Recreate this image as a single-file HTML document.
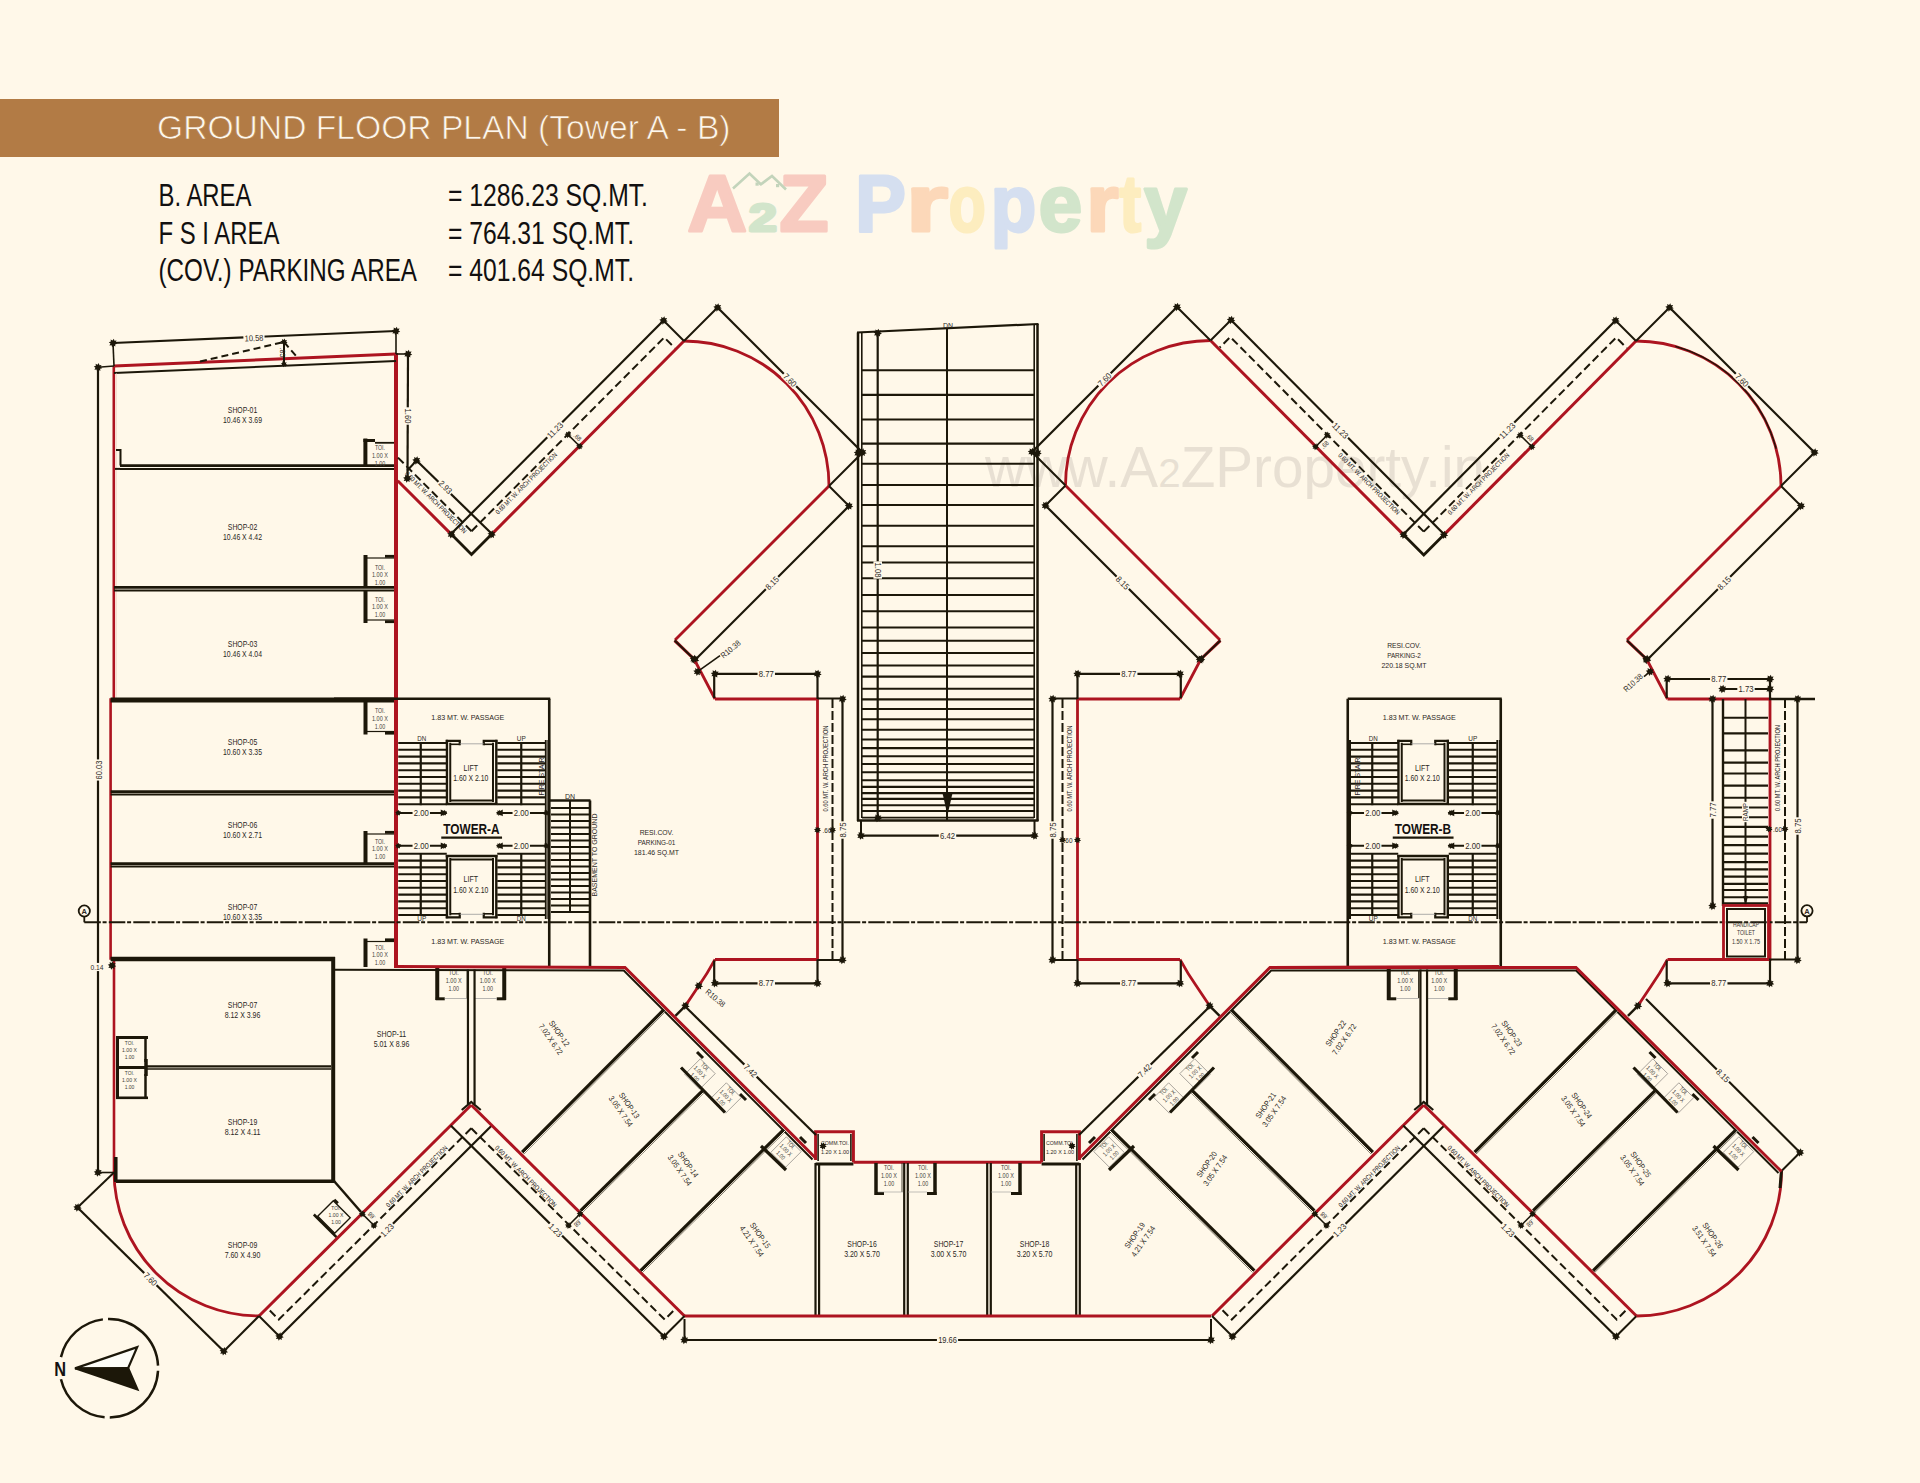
<!DOCTYPE html><html><head><meta charset="utf-8"><style>html,body{margin:0;padding:0;background:#fff8e9;}body{width:1920px;height:1483px;overflow:hidden;font-family:"Liberation Sans",sans-serif;}svg{display:block;}</style></head><body><svg width="1920" height="1483" viewBox="0 0 1920 1483" font-family="Liberation Sans, sans-serif"><rect x="0" y="99" width="779" height="58" fill="#b27b45" stroke="none" stroke-width="0"/><text x="157" y="139" font-size="32.8" text-anchor="start" fill="#fdf7ec" font-weight="normal" textLength="573.5" lengthAdjust="spacingAndGlyphs" stroke="#b27b45" stroke-width="0.7">GROUND FLOOR PLAN (Tower A - B)</text><text x="158.5" y="205.5" font-size="30.5" text-anchor="start" fill="#121010" font-weight="normal" textLength="93" lengthAdjust="spacingAndGlyphs">B. AREA</text><text x="448" y="205.5" font-size="30.5" text-anchor="start" fill="#121010" font-weight="normal" textLength="200" lengthAdjust="spacingAndGlyphs">= 1286.23 SQ.MT.</text><text x="158.5" y="243.75" font-size="30.5" text-anchor="start" fill="#121010" font-weight="normal" textLength="121" lengthAdjust="spacingAndGlyphs">F S I AREA</text><text x="448" y="243.75" font-size="30.5" text-anchor="start" fill="#121010" font-weight="normal" textLength="186" lengthAdjust="spacingAndGlyphs">= 764.31 SQ.MT.</text><text x="158.5" y="281.25" font-size="30.5" text-anchor="start" fill="#121010" font-weight="normal" textLength="258.5" lengthAdjust="spacingAndGlyphs">(COV.) PARKING AREA</text><text x="448" y="281.25" font-size="30.5" text-anchor="start" fill="#121010" font-weight="normal" textLength="186" lengthAdjust="spacingAndGlyphs">= 401.64 SQ.MT.</text><g font-weight="bold" stroke-width="3" stroke-linejoin="round"><text x="687.62" y="231.1" font-size="79.4" fill="#f8cbc0" stroke="#f8cbc0" textLength="59.43" lengthAdjust="spacingAndGlyphs">A</text><text x="748.9" y="231.1" font-size="38" fill="#d2e5cb" stroke="#d2e5cb" textLength="27.75" lengthAdjust="spacingAndGlyphs">2</text><text x="779.38" y="231.1" font-size="79.4" fill="#f8cbc0" stroke="#f8cbc0" textLength="48.96" lengthAdjust="spacingAndGlyphs">Z</text><text x="855.29" y="231.1" font-size="79.4" fill="#d5dff0" stroke="#d5dff0" textLength="50.58" lengthAdjust="spacingAndGlyphs">P</text><text x="906.08" y="231.1" font-size="79.4" fill="#fcd8b9" stroke="#fcd8b9" textLength="42.05" lengthAdjust="spacingAndGlyphs">r</text><text x="948.64" y="231.1" font-size="79.4" fill="#fdedbf" stroke="#fdedbf" textLength="36.9" lengthAdjust="spacingAndGlyphs">o</text><text x="990.86" y="231.1" font-size="79.4" fill="#d5dff0" stroke="#d5dff0" textLength="45.48" lengthAdjust="spacingAndGlyphs">p</text><text x="1038.66" y="231.1" font-size="79.4" fill="#d2e5cb" stroke="#d2e5cb" textLength="43.41" lengthAdjust="spacingAndGlyphs">e</text><text x="1086.45" y="231.1" font-size="79.4" fill="#fcd8b9" stroke="#fcd8b9" textLength="32.01" lengthAdjust="spacingAndGlyphs">r</text><text x="1119.52" y="231.1" font-size="79.4" fill="#fdedbf" stroke="#fdedbf" textLength="21.55" lengthAdjust="spacingAndGlyphs">t</text><text x="1144.16" y="231.1" font-size="79.4" fill="#d2e5cb" stroke="#d2e5cb" textLength="42.63" lengthAdjust="spacingAndGlyphs">y</text></g><polyline points="733,188.5 749.5,173.5 761,184.5" fill="none" stroke="#c3d4bb" stroke-width="2.6" stroke-linejoin="miter"/><polyline points="760,185 772,176 786,189.5" fill="none" stroke="#c3d4bb" stroke-width="2.6" stroke-linejoin="miter"/><rect x="755.5" y="182.5" width="3.2" height="3.2" fill="#c3d4bb" stroke="none" stroke-width="0"/><rect x="776" y="184" width="3.2" height="3.2" fill="#c3d4bb" stroke="none" stroke-width="0"/><text x="985" y="487" font-size="57.5" fill="#e2dacd" fill-opacity="0.8" textLength="500" lengthAdjust="spacingAndGlyphs">www.A<tspan font-size="41">2</tspan>ZProperty.in</text><polyline points="114,366 396,354" fill="none" stroke="#ad1420" stroke-width="3" stroke-linejoin="miter"/><line x1="396" y1="353" x2="396" y2="968" stroke="#ad1420" stroke-width="4" stroke-linecap="butt"/><polyline points="113.8,366 113.8,699.5 110.6,699.5 110.6,958.5 114,958.5 114,1171" fill="none" stroke="#ad1420" stroke-width="2.6" stroke-linejoin="miter"/><path d="M114,1171 A145,145 0 0 0 259,1316" fill="none" stroke="#ad1420" stroke-width="2.8"/><line x1="114" y1="373" x2="396" y2="361" stroke="#1c1709" stroke-width="2" stroke-linecap="butt"/><line x1="116.3" y1="373" x2="116.3" y2="699" stroke="#e8c8b8" stroke-width="0.6" stroke-linecap="butt"/><line x1="113" y1="343" x2="396" y2="331" stroke="#1c1709" stroke-width="2.2" stroke-linecap="butt"/><line x1="113" y1="343" x2="114" y2="366" stroke="#1c1709" stroke-width="1.6" stroke-linecap="butt"/><line x1="396" y1="331" x2="396" y2="354" stroke="#1c1709" stroke-width="1.6" stroke-linecap="butt"/><polygon points="117.21,343.85 115.14,344.44 115.38,346.58 113.49,345.53 112.15,347.21 111.56,345.14 109.42,345.38 110.47,343.49 108.79,342.15 110.86,341.56 110.62,339.42 112.51,340.47 113.85,338.79 114.44,340.86 116.58,340.62 115.53,342.51" fill="#1c1709"/><polygon points="400.21,331.85 398.14,332.44 398.38,334.58 396.49,333.53 395.15,335.21 394.56,333.14 392.42,333.38 393.47,331.49 391.79,330.15 393.86,329.56 393.62,327.42 395.51,328.47 396.85,326.79 397.44,328.86 399.58,328.62 398.53,330.51" fill="#1c1709"/><g transform="translate(254 338) rotate(-2.4)"><rect x="-10.57" y="-4.3" width="21.15" height="8.59" fill="#fff8e9" stroke="none" stroke-width="0"/><text x="0" y="3.1" font-size="8.6" text-anchor="middle" fill="#2e2a26" font-weight="normal" textLength="18.75" lengthAdjust="spacingAndGlyphs">10.58</text></g><line x1="200" y1="361.5" x2="284" y2="342" stroke="#1c1709" stroke-width="2" stroke-dasharray="7 4" stroke-linecap="butt"/><line x1="284" y1="342" x2="297" y2="357" stroke="#1c1709" stroke-width="2" stroke-dasharray="7 4" stroke-linecap="butt"/><line x1="284" y1="342" x2="284" y2="365" stroke="#1c1709" stroke-width="2" stroke-linecap="butt"/><polygon points="287.53,342.72 285.79,343.21 285.99,345 284.41,344.12 283.28,345.53 282.79,343.79 281,343.99 281.88,342.41 280.47,341.28 282.21,340.79 282.01,339 283.59,339.88 284.72,338.47 285.21,340.21 287,340.01 286.12,341.59" fill="#1c1709"/><polygon points="287.14,364.64 285.59,365.07 285.77,366.67 284.37,365.88 283.36,367.14 282.93,365.59 281.33,365.77 282.12,364.37 280.86,363.36 282.41,362.93 282.23,361.33 283.63,362.12 284.64,360.86 285.07,362.41 286.67,362.23 285.88,363.63" fill="#1c1709"/><g transform="translate(283 352.5) rotate(90)"><text x="0" y="2.52" font-size="7" text-anchor="middle" fill="#2e2a26" font-weight="normal" textLength="9.87" lengthAdjust="spacingAndGlyphs">.85</text></g><line x1="98" y1="367" x2="98" y2="1172.5" stroke="#1c1709" stroke-width="2.2" stroke-linecap="butt"/><line x1="98" y1="367.3" x2="114" y2="366" stroke="#1c1709" stroke-width="1.6" stroke-linecap="butt"/><line x1="98" y1="1172.5" x2="114" y2="1172.5" stroke="#1c1709" stroke-width="1.6" stroke-linecap="butt"/><polygon points="102.21,368.15 100.14,368.74 100.38,370.88 98.49,369.83 97.15,371.51 96.56,369.44 94.42,369.68 95.47,367.79 93.79,366.45 95.86,365.86 95.62,363.72 97.51,364.77 98.85,363.09 99.44,365.16 101.58,364.92 100.53,366.81" fill="#1c1709"/><polygon points="102.21,1173.35 100.14,1173.94 100.38,1176.08 98.49,1175.03 97.15,1176.71 96.56,1174.64 94.42,1174.88 95.47,1172.99 93.79,1171.65 95.86,1171.06 95.62,1168.92 97.51,1169.97 98.85,1168.29 99.44,1170.36 101.58,1170.12 100.53,1172.01" fill="#1c1709"/><g transform="translate(98.5 770) rotate(-90)"><rect x="-10.57" y="-4.3" width="21.15" height="8.59" fill="#fff8e9" stroke="none" stroke-width="0"/><text x="0" y="3.1" font-size="8.6" text-anchor="middle" fill="#2e2a26" font-weight="normal" textLength="18.75" lengthAdjust="spacingAndGlyphs">60.03</text></g><line x1="396" y1="354" x2="408" y2="354" stroke="#1c1709" stroke-width="1.6" stroke-linecap="butt"/><line x1="408" y1="354" x2="407.5" y2="479" stroke="#1c1709" stroke-width="2.2" stroke-linecap="butt"/><polygon points="412.21,354.85 410.14,355.44 410.38,357.58 408.49,356.53 407.15,358.21 406.56,356.14 404.42,356.38 405.47,354.49 403.79,353.15 405.86,352.56 405.62,350.42 407.51,351.47 408.85,349.79 409.44,351.86 411.58,351.62 410.53,353.51" fill="#1c1709"/><polygon points="411.51,479.35 409.44,479.94 409.68,482.08 407.79,481.03 406.45,482.71 405.86,480.64 403.72,480.88 404.77,478.99 403.09,477.65 405.16,477.06 404.92,474.92 406.81,475.97 408.15,474.29 408.74,476.36 410.88,476.12 409.83,478.01" fill="#1c1709"/><g transform="translate(408 416) rotate(90)"><rect x="-8.7" y="-4.3" width="17.4" height="8.59" fill="#fff8e9" stroke="none" stroke-width="0"/><text x="0" y="3.1" font-size="8.6" text-anchor="middle" fill="#2e2a26" font-weight="normal" textLength="15" lengthAdjust="spacingAndGlyphs">1.60</text></g><line x1="120" y1="465.6" x2="394" y2="465.6" stroke="#1c1709" stroke-width="2.6" stroke-linecap="butt"/><line x1="120" y1="468.9" x2="394" y2="468.9" stroke="#1c1709" stroke-width="2" stroke-linecap="butt"/><line x1="115" y1="468.9" x2="120" y2="468.9" stroke="#1c1709" stroke-width="2" stroke-linecap="butt"/><polyline points="116,450 120.5,450 120.5,465.6" fill="none" stroke="#1c1709" stroke-width="2" stroke-linejoin="miter"/><line x1="114" y1="587.4" x2="394" y2="587.4" stroke="#1c1709" stroke-width="2.6" stroke-linecap="butt"/><line x1="114" y1="590.6" x2="394" y2="590.6" stroke="#1c1709" stroke-width="2" stroke-linecap="butt"/><line x1="110.6" y1="700" x2="394" y2="700" stroke="#1c1709" stroke-width="5" stroke-linecap="butt"/><line x1="110.6" y1="791.6" x2="394" y2="791.6" stroke="#1c1709" stroke-width="2.6" stroke-linecap="butt"/><line x1="110.6" y1="794.4" x2="394" y2="794.4" stroke="#1c1709" stroke-width="2" stroke-linecap="butt"/><line x1="110.6" y1="863.6" x2="394" y2="863.6" stroke="#1c1709" stroke-width="2.6" stroke-linecap="butt"/><line x1="110.6" y1="866.6" x2="394" y2="866.6" stroke="#1c1709" stroke-width="2" stroke-linecap="butt"/><line x1="110.6" y1="959" x2="335" y2="959" stroke="#1c1709" stroke-width="4.5" stroke-linecap="butt"/><line x1="365.4" y1="438.5" x2="365.4" y2="466.5" stroke="#1c1709" stroke-width="4" stroke-linecap="butt"/><line x1="363.4" y1="440.5" x2="375" y2="440.5" stroke="#1c1709" stroke-width="3" stroke-linecap="butt"/><line x1="375" y1="442.8" x2="394" y2="442.8" stroke="#1c1709" stroke-width="1.8" stroke-linecap="butt"/><line x1="365.5" y1="555" x2="365.5" y2="588" stroke="#1c1709" stroke-width="4" stroke-linecap="butt"/><line x1="385" y1="556.3" x2="394" y2="556.3" stroke="#1c1709" stroke-width="2.8" stroke-linecap="butt"/><line x1="367" y1="558" x2="394" y2="558" stroke="#1c1709" stroke-width="1.2" stroke-linecap="butt"/><line x1="365.5" y1="590" x2="365.5" y2="623" stroke="#1c1709" stroke-width="4" stroke-linecap="butt"/><line x1="385" y1="621.7" x2="394" y2="621.7" stroke="#1c1709" stroke-width="2.8" stroke-linecap="butt"/><line x1="367" y1="620" x2="394" y2="620" stroke="#1c1709" stroke-width="1.2" stroke-linecap="butt"/><line x1="365.5" y1="700" x2="365.5" y2="734.5" stroke="#1c1709" stroke-width="4" stroke-linecap="butt"/><line x1="385" y1="733.2" x2="394" y2="733.2" stroke="#1c1709" stroke-width="2.8" stroke-linecap="butt"/><line x1="367" y1="731.5" x2="394" y2="731.5" stroke="#1c1709" stroke-width="1.2" stroke-linecap="butt"/><line x1="365.5" y1="831" x2="365.5" y2="864" stroke="#1c1709" stroke-width="4" stroke-linecap="butt"/><line x1="385" y1="832.3" x2="394" y2="832.3" stroke="#1c1709" stroke-width="2.8" stroke-linecap="butt"/><line x1="367" y1="834" x2="394" y2="834" stroke="#1c1709" stroke-width="1.2" stroke-linecap="butt"/><line x1="365.5" y1="938.5" x2="365.5" y2="967" stroke="#1c1709" stroke-width="4" stroke-linecap="butt"/><line x1="385" y1="939.8" x2="394" y2="939.8" stroke="#1c1709" stroke-width="2.8" stroke-linecap="butt"/><line x1="367" y1="941.5" x2="394" y2="941.5" stroke="#1c1709" stroke-width="1.2" stroke-linecap="butt"/><g transform="translate(380 455.5) rotate(0)"><text x="0" y="-5.4" font-size="6.6" text-anchor="middle" fill="#433f3a" font-weight="normal" textLength="10" lengthAdjust="spacingAndGlyphs">TOI.</text><text x="0" y="2.4" font-size="6.6" text-anchor="middle" fill="#433f3a" font-weight="normal" textLength="16" lengthAdjust="spacingAndGlyphs">1.00 X</text><text x="0" y="10.2" font-size="6.6" text-anchor="middle" fill="#433f3a" font-weight="normal" textLength="10.5" lengthAdjust="spacingAndGlyphs">1.00</text></g><g transform="translate(380 575) rotate(0)"><text x="0" y="-5.4" font-size="6.6" text-anchor="middle" fill="#433f3a" font-weight="normal" textLength="10" lengthAdjust="spacingAndGlyphs">TOI.</text><text x="0" y="2.4" font-size="6.6" text-anchor="middle" fill="#433f3a" font-weight="normal" textLength="16" lengthAdjust="spacingAndGlyphs">1.00 X</text><text x="0" y="10.2" font-size="6.6" text-anchor="middle" fill="#433f3a" font-weight="normal" textLength="10.5" lengthAdjust="spacingAndGlyphs">1.00</text></g><g transform="translate(380 607) rotate(0)"><text x="0" y="-5.4" font-size="6.6" text-anchor="middle" fill="#433f3a" font-weight="normal" textLength="10" lengthAdjust="spacingAndGlyphs">TOI.</text><text x="0" y="2.4" font-size="6.6" text-anchor="middle" fill="#433f3a" font-weight="normal" textLength="16" lengthAdjust="spacingAndGlyphs">1.00 X</text><text x="0" y="10.2" font-size="6.6" text-anchor="middle" fill="#433f3a" font-weight="normal" textLength="10.5" lengthAdjust="spacingAndGlyphs">1.00</text></g><g transform="translate(380 718.5) rotate(0)"><text x="0" y="-5.4" font-size="6.6" text-anchor="middle" fill="#433f3a" font-weight="normal" textLength="10" lengthAdjust="spacingAndGlyphs">TOI.</text><text x="0" y="2.4" font-size="6.6" text-anchor="middle" fill="#433f3a" font-weight="normal" textLength="16" lengthAdjust="spacingAndGlyphs">1.00 X</text><text x="0" y="10.2" font-size="6.6" text-anchor="middle" fill="#433f3a" font-weight="normal" textLength="10.5" lengthAdjust="spacingAndGlyphs">1.00</text></g><g transform="translate(380 849) rotate(0)"><text x="0" y="-5.4" font-size="6.6" text-anchor="middle" fill="#433f3a" font-weight="normal" textLength="10" lengthAdjust="spacingAndGlyphs">TOI.</text><text x="0" y="2.4" font-size="6.6" text-anchor="middle" fill="#433f3a" font-weight="normal" textLength="16" lengthAdjust="spacingAndGlyphs">1.00 X</text><text x="0" y="10.2" font-size="6.6" text-anchor="middle" fill="#433f3a" font-weight="normal" textLength="10.5" lengthAdjust="spacingAndGlyphs">1.00</text></g><g transform="translate(380 955) rotate(0)"><text x="0" y="-5.4" font-size="6.6" text-anchor="middle" fill="#433f3a" font-weight="normal" textLength="10" lengthAdjust="spacingAndGlyphs">TOI.</text><text x="0" y="2.4" font-size="6.6" text-anchor="middle" fill="#433f3a" font-weight="normal" textLength="16" lengthAdjust="spacingAndGlyphs">1.00 X</text><text x="0" y="10.2" font-size="6.6" text-anchor="middle" fill="#433f3a" font-weight="normal" textLength="10.5" lengthAdjust="spacingAndGlyphs">1.00</text></g><g transform="translate(97 967) rotate(0)"><rect x="-7.7" y="-4.08" width="15.4" height="8.16" fill="#fff8e9" stroke="none" stroke-width="0"/><text x="0" y="2.88" font-size="8" text-anchor="middle" fill="#2e2a26" font-weight="normal" textLength="13" lengthAdjust="spacingAndGlyphs">0.14</text></g><polygon points="116.21,966.35 114.14,966.94 114.38,969.08 112.49,968.03 111.15,969.71 110.56,967.64 108.42,967.88 109.47,965.99 107.79,964.65 109.86,964.06 109.62,961.92 111.51,962.97 112.85,961.29 113.44,963.36 115.58,963.12 114.53,965.01" fill="#1c1709"/><g transform="translate(242.5 413) rotate(0)"><text x="0" y="0" font-size="8.2" text-anchor="middle" fill="#2b2723" font-weight="normal" textLength="29.4" lengthAdjust="spacingAndGlyphs">SHOP-01</text><text x="0" y="10.3" font-size="8.2" text-anchor="middle" fill="#2b2723" font-weight="normal" textLength="39" lengthAdjust="spacingAndGlyphs">10.46 X 3.69</text></g><g transform="translate(242.5 530) rotate(0)"><text x="0" y="0" font-size="8.2" text-anchor="middle" fill="#2b2723" font-weight="normal" textLength="29.4" lengthAdjust="spacingAndGlyphs">SHOP-02</text><text x="0" y="10.3" font-size="8.2" text-anchor="middle" fill="#2b2723" font-weight="normal" textLength="39" lengthAdjust="spacingAndGlyphs">10.46 X 4.42</text></g><g transform="translate(242.5 647) rotate(0)"><text x="0" y="0" font-size="8.2" text-anchor="middle" fill="#2b2723" font-weight="normal" textLength="29.4" lengthAdjust="spacingAndGlyphs">SHOP-03</text><text x="0" y="10.3" font-size="8.2" text-anchor="middle" fill="#2b2723" font-weight="normal" textLength="39" lengthAdjust="spacingAndGlyphs">10.46 X 4.04</text></g><g transform="translate(242.5 745) rotate(0)"><text x="0" y="0" font-size="8.2" text-anchor="middle" fill="#2b2723" font-weight="normal" textLength="29.4" lengthAdjust="spacingAndGlyphs">SHOP-05</text><text x="0" y="10.3" font-size="8.2" text-anchor="middle" fill="#2b2723" font-weight="normal" textLength="39" lengthAdjust="spacingAndGlyphs">10.60 X 3.35</text></g><g transform="translate(242.5 828) rotate(0)"><text x="0" y="0" font-size="8.2" text-anchor="middle" fill="#2b2723" font-weight="normal" textLength="29.4" lengthAdjust="spacingAndGlyphs">SHOP-06</text><text x="0" y="10.3" font-size="8.2" text-anchor="middle" fill="#2b2723" font-weight="normal" textLength="39" lengthAdjust="spacingAndGlyphs">10.60 X 2.71</text></g><g transform="translate(242.5 909.5) rotate(0)"><text x="0" y="0" font-size="8.2" text-anchor="middle" fill="#2b2723" font-weight="normal" textLength="29.4" lengthAdjust="spacingAndGlyphs">SHOP-07</text><text x="0" y="10.3" font-size="8.2" text-anchor="middle" fill="#2b2723" font-weight="normal" textLength="39" lengthAdjust="spacingAndGlyphs">10.60 X 3.35</text></g><line x1="333.2" y1="957" x2="333.2" y2="1183" stroke="#1c1709" stroke-width="4" stroke-linecap="butt"/><line x1="116" y1="1181.3" x2="333" y2="1181.3" stroke="#1c1709" stroke-width="3.5" stroke-linecap="butt"/><line x1="115.8" y1="1157" x2="115.8" y2="1182" stroke="#1c1709" stroke-width="3.5" stroke-linecap="butt"/><line x1="147" y1="1066.3" x2="331" y2="1066.3" stroke="#1c1709" stroke-width="2.2" stroke-linecap="butt"/><line x1="147" y1="1069" x2="331" y2="1069" stroke="#1c1709" stroke-width="1.6" stroke-linecap="butt"/><line x1="116" y1="1037.5" x2="148" y2="1037.5" stroke="#1c1709" stroke-width="3" stroke-linecap="butt"/><line x1="117.5" y1="1036" x2="117.5" y2="1099" stroke="#1c1709" stroke-width="3" stroke-linecap="butt"/><line x1="145.5" y1="1038" x2="145.5" y2="1062" stroke="#1c1709" stroke-width="2.5" stroke-linecap="butt"/><line x1="146" y1="1059" x2="146" y2="1076" stroke="#1c1709" stroke-width="3.5" stroke-linecap="butt"/><line x1="145.5" y1="1074" x2="145.5" y2="1097" stroke="#1c1709" stroke-width="2.5" stroke-linecap="butt"/><line x1="116" y1="1067.5" x2="146" y2="1067.5" stroke="#1c1709" stroke-width="3" stroke-linecap="butt"/><line x1="116" y1="1097.8" x2="148" y2="1097.8" stroke="#1c1709" stroke-width="2.6" stroke-linecap="butt"/><g transform="translate(129.5 1049.5) rotate(0)"><text x="0" y="-5.01" font-size="6.13" text-anchor="middle" fill="#433f3a" font-weight="normal" textLength="9.29" lengthAdjust="spacingAndGlyphs">TOI.</text><text x="0" y="2.23" font-size="6.13" text-anchor="middle" fill="#433f3a" font-weight="normal" textLength="14.86" lengthAdjust="spacingAndGlyphs">1.00 X</text><text x="0" y="9.47" font-size="6.13" text-anchor="middle" fill="#433f3a" font-weight="normal" textLength="9.75" lengthAdjust="spacingAndGlyphs">1.00</text></g><g transform="translate(129.5 1079.5) rotate(0)"><text x="0" y="-5.01" font-size="6.13" text-anchor="middle" fill="#433f3a" font-weight="normal" textLength="9.29" lengthAdjust="spacingAndGlyphs">TOI.</text><text x="0" y="2.23" font-size="6.13" text-anchor="middle" fill="#433f3a" font-weight="normal" textLength="14.86" lengthAdjust="spacingAndGlyphs">1.00 X</text><text x="0" y="9.47" font-size="6.13" text-anchor="middle" fill="#433f3a" font-weight="normal" textLength="9.75" lengthAdjust="spacingAndGlyphs">1.00</text></g><g transform="translate(242.5 1008) rotate(0)"><text x="0" y="0" font-size="8.2" text-anchor="middle" fill="#2b2723" font-weight="normal" textLength="29.4" lengthAdjust="spacingAndGlyphs">SHOP-07</text><text x="0" y="10.3" font-size="8.2" text-anchor="middle" fill="#2b2723" font-weight="normal" textLength="35.75" lengthAdjust="spacingAndGlyphs">8.12 X 3.96</text></g><g transform="translate(242.5 1125) rotate(0)"><text x="0" y="0" font-size="8.2" text-anchor="middle" fill="#2b2723" font-weight="normal" textLength="29.4" lengthAdjust="spacingAndGlyphs">SHOP-19</text><text x="0" y="10.3" font-size="8.2" text-anchor="middle" fill="#2b2723" font-weight="normal" textLength="35.75" lengthAdjust="spacingAndGlyphs">8.12 X 4.11</text></g><g transform="translate(242.5 1248) rotate(0)"><text x="0" y="0" font-size="8.2" text-anchor="middle" fill="#2b2723" font-weight="normal" textLength="29.4" lengthAdjust="spacingAndGlyphs">SHOP-09</text><text x="0" y="10.3" font-size="8.2" text-anchor="middle" fill="#2b2723" font-weight="normal" textLength="35.75" lengthAdjust="spacingAndGlyphs">7.60 X 4.90</text></g><line x1="334" y1="1181" x2="361" y2="1212" stroke="#1c1709" stroke-width="2.5" stroke-linecap="butt"/><g transform="translate(391.5 1037) rotate(0)"><text x="0" y="0" font-size="8.2" text-anchor="middle" fill="#2b2723" font-weight="normal" textLength="29.4" lengthAdjust="spacingAndGlyphs">SHOP-11</text><text x="0" y="10.3" font-size="8.2" text-anchor="middle" fill="#2b2723" font-weight="normal" textLength="35.75" lengthAdjust="spacingAndGlyphs">5.01 X 8.96</text></g><g transform="rotate(45 334 1217)"><rect x="322" y="1206" width="24" height="22" fill="none" stroke="#1c1709" stroke-width="1.4"/><line x1="318" y1="1229.5" x2="350" y2="1229.5" stroke="#1c1709" stroke-width="2.6" stroke-linecap="butt"/><line x1="322" y1="1204.5" x2="327" y2="1204.5" stroke="#1c1709" stroke-width="2.6" stroke-linecap="butt"/></g><g transform="translate(336 1215) rotate(0)"><text x="0" y="-5.01" font-size="6.13" text-anchor="middle" fill="#433f3a" font-weight="normal" textLength="9.29" lengthAdjust="spacingAndGlyphs">TOI.</text><text x="0" y="2.23" font-size="6.13" text-anchor="middle" fill="#433f3a" font-weight="normal" textLength="14.86" lengthAdjust="spacingAndGlyphs">1.00 X</text><text x="0" y="9.47" font-size="6.13" text-anchor="middle" fill="#433f3a" font-weight="normal" textLength="9.75" lengthAdjust="spacingAndGlyphs">1.00</text></g><line x1="114" y1="1172.5" x2="77.5" y2="1207.5" stroke="#1c1709" stroke-width="2" stroke-linecap="butt"/><line x1="77.5" y1="1207.5" x2="223.8" y2="1351.3" stroke="#1c1709" stroke-width="2.2" stroke-linecap="butt"/><line x1="223.8" y1="1351.3" x2="259" y2="1316" stroke="#1c1709" stroke-width="2" stroke-linecap="butt"/><polygon points="81.71,1208.35 79.64,1208.94 79.88,1211.08 77.99,1210.03 76.65,1211.71 76.06,1209.64 73.92,1209.88 74.97,1207.99 73.29,1206.65 75.36,1206.06 75.12,1203.92 77.01,1204.97 78.35,1203.29 78.94,1205.36 81.08,1205.12 80.03,1207.01" fill="#1c1709"/><polygon points="228.01,1352.15 225.94,1352.74 226.18,1354.88 224.29,1353.83 222.95,1355.51 222.36,1353.44 220.22,1353.68 221.27,1351.79 219.59,1350.45 221.66,1349.86 221.42,1347.72 223.31,1348.77 224.65,1347.09 225.24,1349.16 227.38,1348.92 226.33,1350.81" fill="#1c1709"/><g transform="translate(150.5 1279) rotate(45)"><rect x="-8.7" y="-4.3" width="17.4" height="8.59" fill="#fff8e9" stroke="none" stroke-width="0"/><text x="0" y="3.1" font-size="8.6" text-anchor="middle" fill="#2e2a26" font-weight="normal" textLength="15" lengthAdjust="spacingAndGlyphs">7.60</text></g><polyline points="451.35,534.35 471.5,554.5 491.65,534.35" fill="none" stroke="#1c1709" stroke-width="2.8" stroke-linejoin="miter"/><line x1="451.35" y1="534.35" x2="397.7" y2="480.7" stroke="#ad1420" stroke-width="3" stroke-linecap="butt"/><polyline points="471.5,531.17 396,455.67" fill="none" stroke="#1c1709" stroke-width="2" stroke-dasharray="8 4" stroke-linejoin="miter"/><line x1="492.01" y1="533.99" x2="416.5" y2="460.5" stroke="#1c1709" stroke-width="2.2" stroke-linecap="butt"/><polygon points="420.71,461.35 418.64,461.94 418.88,464.08 416.99,463.03 415.65,464.71 415.06,462.64 412.92,462.88 413.97,460.99 412.29,459.65 414.36,459.06 414.12,456.92 416.01,457.97 417.35,456.29 417.94,458.36 420.08,458.12 419.03,460.01" fill="#1c1709"/><line x1="416.5" y1="460.5" x2="407.3" y2="470.5" stroke="#1c1709" stroke-width="2" stroke-linecap="butt"/><g transform="translate(445.5 487) rotate(45)"><rect x="-8.7" y="-4.3" width="17.4" height="8.59" fill="#fff8e9" stroke="none" stroke-width="0"/><text x="0" y="3.1" font-size="8.6" text-anchor="middle" fill="#2e2a26" font-weight="normal" textLength="15" lengthAdjust="spacingAndGlyphs">2.93</text></g><g transform="translate(436 502.32) rotate(45)"><text x="0" y="2.45" font-size="6.8" text-anchor="middle" fill="#24201c" font-weight="normal" textLength="84" lengthAdjust="spacingAndGlyphs">0.60 MT. W. ARCH PROJECTION</text></g><line x1="491.65" y1="534.35" x2="684" y2="341" stroke="#ad1420" stroke-width="3" stroke-linecap="butt"/><polyline points="471.5,531.17 664.2,337.46 674.81,348.07" fill="none" stroke="#1c1709" stroke-width="2" stroke-dasharray="8 4" stroke-linejoin="miter"/><line x1="450.99" y1="533.99" x2="663.49" y2="320.49" stroke="#1c1709" stroke-width="2.2" stroke-linecap="butt"/><line x1="663.49" y1="320.49" x2="684" y2="341" stroke="#1c1709" stroke-width="2" stroke-linecap="butt"/><polygon points="667.71,321.35 665.63,321.94 665.87,324.08 663.99,323.03 662.64,324.71 662.05,322.63 659.91,322.87 660.96,320.99 659.28,319.64 661.35,319.05 661.12,316.91 663,317.96 664.35,316.28 664.94,318.35 667.08,318.12 666.03,320" fill="#1c1709"/><g transform="translate(526.09 483.22) rotate(-45)"><text x="0" y="2.45" font-size="6.8" text-anchor="middle" fill="#24201c" font-weight="normal" textLength="84" lengthAdjust="spacingAndGlyphs">0.60 MT. W. ARCH PROJECTION</text></g><line x1="579.69" y1="446.31" x2="568.02" y2="434.65" stroke="#1c1709" stroke-width="1.5" stroke-linecap="butt"/><polygon points="583.22,447.03 581.48,447.52 581.68,449.31 580.1,448.43 578.97,449.84 578.48,448.1 576.69,448.3 577.57,446.73 576.16,445.6 577.9,445.11 577.7,443.31 579.27,444.19 580.4,442.78 580.89,444.52 582.69,444.32 581.81,445.9" fill="#1c1709"/><polygon points="571.55,435.36 569.81,435.85 570.01,437.65 568.43,436.77 567.3,438.17 566.81,436.44 565.02,436.63 565.9,435.06 564.49,433.93 566.23,433.44 566.03,431.64 567.61,432.53 568.74,431.12 569.23,432.85 571.02,432.66 570.14,434.23" fill="#1c1709"/><g transform="translate(577.57 437.12) rotate(45)"><text x="0" y="2.34" font-size="6.5" text-anchor="middle" fill="#2e2a26" font-weight="normal" textLength="8" lengthAdjust="spacingAndGlyphs">.68</text></g><g transform="translate(554.94 430.05) rotate(-45)"><rect x="-10.57" y="-4.3" width="21.15" height="8.59" fill="#fff8e9" stroke="none" stroke-width="0"/><text x="0" y="3.1" font-size="8.6" text-anchor="middle" fill="#2e2a26" font-weight="normal" textLength="18.75" lengthAdjust="spacingAndGlyphs">11.23</text></g><polygon points="455.56,535.2 453.49,535.79 453.72,537.93 451.84,536.88 450.49,538.56 449.91,536.49 447.76,536.72 448.82,534.84 447.13,533.49 449.21,532.91 448.97,530.76 450.85,531.82 452.2,530.13 452.79,532.21 454.93,531.97 453.88,533.85" fill="#1c1709"/><polygon points="495.87,535.2 493.79,535.79 494.03,537.93 492.15,536.88 490.8,538.56 490.21,536.49 488.07,536.72 489.12,534.84 487.44,533.49 489.51,532.91 489.28,530.76 491.16,531.82 492.51,530.13 493.09,532.21 495.24,531.97 494.18,533.85" fill="#1c1709"/><polyline points="1403.6,534.85 1423.75,555 1443.9,534.85" fill="none" stroke="#1c1709" stroke-width="2.8" stroke-linejoin="miter"/><line x1="1403.6" y1="534.85" x2="1210.5" y2="340.5" stroke="#ad1420" stroke-width="3" stroke-linecap="butt"/><polyline points="1423.75,531.67 1230.3,336.96 1219.69,347.57" fill="none" stroke="#1c1709" stroke-width="2" stroke-dasharray="8 4" stroke-linejoin="miter"/><line x1="1444.26" y1="534.49" x2="1231.01" y2="319.99" stroke="#1c1709" stroke-width="2.2" stroke-linecap="butt"/><line x1="1231.01" y1="319.99" x2="1210.5" y2="340.5" stroke="#1c1709" stroke-width="2" stroke-linecap="butt"/><polygon points="1235.22,320.85 1233.15,321.44 1233.38,323.58 1231.5,322.53 1230.15,324.21 1229.56,322.13 1227.42,322.37 1228.47,320.49 1226.79,319.14 1228.87,318.55 1228.63,316.41 1230.51,317.46 1231.86,315.78 1232.45,317.85 1234.59,317.62 1233.54,319.5" fill="#1c1709"/><g transform="translate(1369.16 483.72) rotate(45)"><text x="0" y="2.45" font-size="6.8" text-anchor="middle" fill="#24201c" font-weight="normal" textLength="84" lengthAdjust="spacingAndGlyphs">0.60 MT. W. ARCH PROJECTION</text></g><line x1="1315.56" y1="446.81" x2="1327.23" y2="435.15" stroke="#1c1709" stroke-width="1.5" stroke-linecap="butt"/><polygon points="1319.09,447.53 1317.35,448.02 1317.55,449.81 1315.98,448.93 1314.85,450.34 1314.36,448.6 1312.56,448.8 1313.44,447.23 1312.03,446.1 1313.77,445.61 1313.57,443.81 1315.15,444.69 1316.28,443.28 1316.77,445.02 1318.56,444.82 1317.68,446.4" fill="#1c1709"/><polygon points="1330.76,435.86 1329.02,436.35 1329.22,438.15 1327.64,437.27 1326.51,438.67 1326.02,436.94 1324.23,437.13 1325.11,435.56 1323.7,434.43 1325.44,433.94 1325.24,432.14 1326.82,433.03 1327.95,431.62 1328.44,433.35 1330.23,433.16 1329.35,434.73" fill="#1c1709"/><g transform="translate(1324.76 444.69) rotate(-45)"><text x="0" y="2.34" font-size="6.5" text-anchor="middle" fill="#2e2a26" font-weight="normal" textLength="8" lengthAdjust="spacingAndGlyphs">.68</text></g><g transform="translate(1340.31 430.55) rotate(45)"><rect x="-10.57" y="-4.3" width="21.15" height="8.59" fill="#fff8e9" stroke="none" stroke-width="0"/><text x="0" y="3.1" font-size="8.6" text-anchor="middle" fill="#2e2a26" font-weight="normal" textLength="18.75" lengthAdjust="spacingAndGlyphs">11.23</text></g><line x1="1443.9" y1="534.85" x2="1636" y2="341" stroke="#ad1420" stroke-width="3" stroke-linecap="butt"/><polyline points="1423.75,531.67 1616.2,337.46 1626.81,348.07" fill="none" stroke="#1c1709" stroke-width="2" stroke-dasharray="8 4" stroke-linejoin="miter"/><line x1="1403.24" y1="534.49" x2="1615.49" y2="320.49" stroke="#1c1709" stroke-width="2.2" stroke-linecap="butt"/><line x1="1615.49" y1="320.49" x2="1636" y2="341" stroke="#1c1709" stroke-width="2" stroke-linecap="butt"/><polygon points="1619.71,321.35 1617.63,321.94 1617.87,324.08 1615.99,323.03 1614.64,324.71 1614.05,322.63 1611.91,322.87 1612.96,320.99 1611.28,319.64 1613.35,319.05 1613.12,316.91 1615,317.96 1616.35,316.28 1616.94,318.35 1619.08,318.12 1618.03,320" fill="#1c1709"/><g transform="translate(1478.34 483.72) rotate(-45)"><text x="0" y="2.45" font-size="6.8" text-anchor="middle" fill="#24201c" font-weight="normal" textLength="84" lengthAdjust="spacingAndGlyphs">0.60 MT. W. ARCH PROJECTION</text></g><line x1="1531.94" y1="446.81" x2="1520.27" y2="435.15" stroke="#1c1709" stroke-width="1.5" stroke-linecap="butt"/><polygon points="1535.47,447.53 1533.73,448.02 1533.93,449.81 1532.35,448.93 1531.22,450.34 1530.73,448.6 1528.94,448.8 1529.82,447.23 1528.41,446.1 1530.15,445.61 1529.95,443.81 1531.52,444.69 1532.65,443.28 1533.14,445.02 1534.94,444.82 1534.06,446.4" fill="#1c1709"/><polygon points="1523.8,435.86 1522.06,436.35 1522.26,438.15 1520.68,437.27 1519.55,438.67 1519.06,436.94 1517.27,437.13 1518.15,435.56 1516.74,434.43 1518.48,433.94 1518.28,432.14 1519.86,433.03 1520.99,431.62 1521.48,433.35 1523.27,433.16 1522.39,434.73" fill="#1c1709"/><g transform="translate(1529.82 437.62) rotate(45)"><text x="0" y="2.34" font-size="6.5" text-anchor="middle" fill="#2e2a26" font-weight="normal" textLength="8" lengthAdjust="spacingAndGlyphs">.68</text></g><g transform="translate(1507.19 430.55) rotate(-45)"><rect x="-10.57" y="-4.3" width="21.15" height="8.59" fill="#fff8e9" stroke="none" stroke-width="0"/><text x="0" y="3.1" font-size="8.6" text-anchor="middle" fill="#2e2a26" font-weight="normal" textLength="18.75" lengthAdjust="spacingAndGlyphs">11.23</text></g><polygon points="1407.81,535.7 1405.74,536.29 1405.97,538.43 1404.09,537.38 1402.74,539.06 1402.16,536.99 1400.01,537.22 1401.07,535.34 1399.38,533.99 1401.46,533.41 1401.22,531.26 1403.1,532.32 1404.45,530.63 1405.04,532.71 1407.18,532.47 1406.13,534.35" fill="#1c1709"/><polygon points="1448.12,535.7 1446.04,536.29 1446.28,538.43 1444.4,537.38 1443.05,539.06 1442.46,536.99 1440.32,537.22 1441.37,535.34 1439.69,533.99 1441.76,533.41 1441.53,531.26 1443.41,532.32 1444.76,530.63 1445.34,532.71 1447.49,532.47 1446.43,534.35" fill="#1c1709"/><path d="M684,341 A145,145 0 0 1 829,486" fill="none" stroke="#ad1420" stroke-width="2.8"/><line x1="684" y1="341" x2="717.52" y2="307.48" stroke="#1c1709" stroke-width="2" stroke-linecap="butt"/><line x1="829" y1="486" x2="862.52" y2="452.48" stroke="#1c1709" stroke-width="2" stroke-linecap="butt"/><line x1="717.52" y1="307.48" x2="862.52" y2="452.48" stroke="#1c1709" stroke-width="2.2" stroke-linecap="butt"/><polygon points="721.73,308.34 719.66,308.92 719.89,311.07 718.01,310.02 716.66,311.7 716.08,309.62 713.93,309.86 714.98,307.98 713.3,306.63 715.38,306.04 715.14,303.9 717.02,304.95 718.37,303.27 718.96,305.34 721.1,305.11 720.05,306.99" fill="#1c1709"/><polygon points="866.73,453.34 864.66,453.92 864.89,456.07 863.01,455.02 861.66,456.7 861.08,454.62 858.93,454.86 859.98,452.98 858.3,451.63 860.38,451.04 860.14,448.9 862.02,449.95 863.37,448.27 863.96,450.34 866.1,450.11 865.05,451.99" fill="#1c1709"/><g transform="translate(790.02 379.98) rotate(45)"><rect x="-8.7" y="-4.3" width="17.4" height="8.59" fill="#fff8e9" stroke="none" stroke-width="0"/><text x="0" y="3.1" font-size="8.6" text-anchor="middle" fill="#2e2a26" font-weight="normal" textLength="15" lengthAdjust="spacingAndGlyphs">7.60</text></g><path d="M1210.5,340.5 A145,145 0 0 0 1065.5,485.5" fill="none" stroke="#ad1420" stroke-width="2.8"/><line x1="1210.5" y1="340.5" x2="1176.98" y2="306.98" stroke="#1c1709" stroke-width="2" stroke-linecap="butt"/><line x1="1065.5" y1="485.5" x2="1031.98" y2="451.98" stroke="#1c1709" stroke-width="2" stroke-linecap="butt"/><line x1="1176.98" y1="306.98" x2="1031.98" y2="451.98" stroke="#1c1709" stroke-width="2.2" stroke-linecap="butt"/><polygon points="1181.2,307.84 1179.12,308.42 1179.36,310.57 1177.48,309.52 1176.13,311.2 1175.54,309.12 1173.4,309.36 1174.45,307.48 1172.77,306.13 1174.84,305.54 1174.61,303.4 1176.49,304.45 1177.84,302.77 1178.42,304.84 1180.57,304.61 1179.52,306.49" fill="#1c1709"/><polygon points="1036.2,452.84 1034.12,453.42 1034.36,455.57 1032.48,454.52 1031.13,456.2 1030.54,454.12 1028.4,454.36 1029.45,452.48 1027.77,451.13 1029.84,450.54 1029.61,448.4 1031.49,449.45 1032.84,447.77 1033.42,449.84 1035.57,449.61 1034.52,451.49" fill="#1c1709"/><g transform="translate(1104.48 379.48) rotate(-45)"><rect x="-8.7" y="-4.3" width="17.4" height="8.59" fill="#fff8e9" stroke="none" stroke-width="0"/><text x="0" y="3.1" font-size="8.6" text-anchor="middle" fill="#2e2a26" font-weight="normal" textLength="15" lengthAdjust="spacingAndGlyphs">7.60</text></g><path d="M1636,341 A145,145 0 0 1 1781,486" fill="none" stroke="#ad1420" stroke-width="2.8"/><path d="M1636,341 A145,145 0 0 1 1781,486" fill="none" stroke="#1c1709" stroke-width="1.3" stroke-dasharray="0 40 150 400"/><line x1="1636" y1="341" x2="1669.52" y2="307.48" stroke="#1c1709" stroke-width="2" stroke-linecap="butt"/><line x1="1781" y1="486" x2="1814.52" y2="452.48" stroke="#1c1709" stroke-width="2" stroke-linecap="butt"/><line x1="1669.52" y1="307.48" x2="1814.52" y2="452.48" stroke="#1c1709" stroke-width="2.2" stroke-linecap="butt"/><polygon points="1673.73,308.34 1671.66,308.92 1671.89,311.07 1670.01,310.02 1668.66,311.7 1668.08,309.62 1665.93,309.86 1666.98,307.98 1665.3,306.63 1667.38,306.04 1667.14,303.9 1669.02,304.95 1670.37,303.27 1670.96,305.34 1673.1,305.11 1672.05,306.99" fill="#1c1709"/><polygon points="1818.73,453.34 1816.66,453.92 1816.89,456.07 1815.01,455.02 1813.66,456.7 1813.08,454.62 1810.93,454.86 1811.98,452.98 1810.3,451.63 1812.38,451.04 1812.14,448.9 1814.02,449.95 1815.37,448.27 1815.96,450.34 1818.1,450.11 1817.05,451.99" fill="#1c1709"/><g transform="translate(1742.02 379.98) rotate(45)"><rect x="-8.7" y="-4.3" width="17.4" height="8.59" fill="#fff8e9" stroke="none" stroke-width="0"/><text x="0" y="3.1" font-size="8.6" text-anchor="middle" fill="#2e2a26" font-weight="normal" textLength="15" lengthAdjust="spacingAndGlyphs">7.60</text></g><line x1="829" y1="486" x2="675" y2="640" stroke="#ad1420" stroke-width="2.8" stroke-linecap="butt"/><line x1="829" y1="486" x2="849.01" y2="506.01" stroke="#1c1709" stroke-width="2" stroke-linecap="butt"/><line x1="675" y1="640" x2="695.01" y2="660.01" stroke="#1c1709" stroke-width="2" stroke-linecap="butt"/><line x1="849.01" y1="506.01" x2="695.01" y2="660.01" stroke="#1c1709" stroke-width="2.2" stroke-linecap="butt"/><polygon points="853.23,506.87 851.15,507.45 851.39,509.6 849.51,508.54 848.16,510.23 847.57,508.15 845.43,508.39 846.48,506.51 844.8,505.16 846.87,504.57 846.64,502.43 848.52,503.48 849.87,501.8 850.45,503.87 852.6,503.64 851.54,505.52" fill="#1c1709"/><polygon points="699.23,660.87 697.15,661.45 697.39,663.6 695.51,662.54 694.16,664.23 693.57,662.15 691.43,662.39 692.48,660.51 690.8,659.16 692.87,658.57 692.64,656.43 694.52,657.48 695.87,655.8 696.45,657.87 698.6,657.64 697.54,659.52" fill="#1c1709"/><g transform="translate(772.01 583.01) rotate(-45)"><rect x="-8.7" y="-4.3" width="17.4" height="8.59" fill="#fff8e9" stroke="none" stroke-width="0"/><text x="0" y="3.1" font-size="8.6" text-anchor="middle" fill="#2e2a26" font-weight="normal" textLength="15" lengthAdjust="spacingAndGlyphs">8.15</text></g><line x1="1065.5" y1="485.5" x2="1220" y2="640" stroke="#ad1420" stroke-width="2.8" stroke-linecap="butt"/><line x1="1065.5" y1="485.5" x2="1045.49" y2="505.51" stroke="#1c1709" stroke-width="2" stroke-linecap="butt"/><line x1="1220" y1="640" x2="1199.99" y2="660.01" stroke="#1c1709" stroke-width="2" stroke-linecap="butt"/><line x1="1045.49" y1="505.51" x2="1199.99" y2="660.01" stroke="#1c1709" stroke-width="2.2" stroke-linecap="butt"/><polygon points="1049.7,506.37 1047.63,506.95 1047.86,509.1 1045.98,508.04 1044.63,509.73 1044.05,507.65 1041.9,507.89 1042.96,506.01 1041.27,504.66 1043.35,504.07 1043.11,501.93 1044.99,502.98 1046.34,501.3 1046.93,503.37 1049.07,503.14 1048.02,505.02" fill="#1c1709"/><polygon points="1204.2,660.87 1202.13,661.45 1202.36,663.6 1200.48,662.54 1199.13,664.23 1198.55,662.15 1196.4,662.39 1197.46,660.51 1195.77,659.16 1197.85,658.57 1197.61,656.43 1199.49,657.48 1200.84,655.8 1201.43,657.87 1203.57,657.64 1202.52,659.52" fill="#1c1709"/><g transform="translate(1122.74 582.76) rotate(45)"><rect x="-8.7" y="-4.3" width="17.4" height="8.59" fill="#fff8e9" stroke="none" stroke-width="0"/><text x="0" y="3.1" font-size="8.6" text-anchor="middle" fill="#2e2a26" font-weight="normal" textLength="15" lengthAdjust="spacingAndGlyphs">8.15</text></g><line x1="1781" y1="486" x2="1627" y2="640" stroke="#ad1420" stroke-width="2.8" stroke-linecap="butt"/><line x1="1781" y1="486" x2="1801.01" y2="506.01" stroke="#1c1709" stroke-width="2" stroke-linecap="butt"/><line x1="1627" y1="640" x2="1647.01" y2="660.01" stroke="#1c1709" stroke-width="2" stroke-linecap="butt"/><line x1="1801.01" y1="506.01" x2="1647.01" y2="660.01" stroke="#1c1709" stroke-width="2.2" stroke-linecap="butt"/><polygon points="1805.23,506.87 1803.15,507.45 1803.39,509.6 1801.51,508.54 1800.16,510.23 1799.57,508.15 1797.43,508.39 1798.48,506.51 1796.8,505.16 1798.87,504.57 1798.64,502.43 1800.52,503.48 1801.87,501.8 1802.45,503.87 1804.6,503.64 1803.54,505.52" fill="#1c1709"/><polygon points="1651.23,660.87 1649.15,661.45 1649.39,663.6 1647.51,662.54 1646.16,664.23 1645.57,662.15 1643.43,662.39 1644.48,660.51 1642.8,659.16 1644.87,658.57 1644.64,656.43 1646.52,657.48 1647.87,655.8 1648.45,657.87 1650.6,657.64 1649.54,659.52" fill="#1c1709"/><g transform="translate(1724.01 583.01) rotate(-45)"><rect x="-8.7" y="-4.3" width="17.4" height="8.59" fill="#fff8e9" stroke="none" stroke-width="0"/><text x="0" y="3.1" font-size="8.6" text-anchor="middle" fill="#2e2a26" font-weight="normal" textLength="15" lengthAdjust="spacingAndGlyphs">8.15</text></g><line x1="674.6" y1="640.6" x2="694" y2="659" stroke="#ad1420" stroke-width="3" stroke-linecap="butt"/><line x1="674.6" y1="640.6" x2="694" y2="659" stroke="#1c1709" stroke-width="1.8" stroke-linecap="butt"/><path d="M694,659 Q702,674 715,699" fill="none" stroke="#ad1420" stroke-width="2.8"/><polygon points="698.21,659.85 696.14,660.44 696.38,662.58 694.49,661.53 693.15,663.21 692.56,661.14 690.42,661.38 691.47,659.49 689.79,658.15 691.86,657.56 691.62,655.42 693.51,656.47 694.85,654.79 695.44,656.86 697.58,656.62 696.53,658.51" fill="#1c1709"/><polygon points="701.71,672.55 699.64,673.14 699.88,675.28 697.99,674.23 696.65,675.91 696.06,673.84 693.92,674.08 694.97,672.19 693.29,670.85 695.36,670.26 695.12,668.12 697.01,669.17 698.35,667.49 698.94,669.56 701.08,669.32 700.03,671.21" fill="#1c1709"/><line x1="697.5" y1="671.7" x2="720" y2="655.7" stroke="#1c1709" stroke-width="1.6" stroke-linecap="butt"/><g transform="translate(730.5 649.2) rotate(-40)"><text x="0" y="2.95" font-size="8.2" text-anchor="middle" fill="#2e2a26" font-weight="normal" textLength="23" lengthAdjust="spacingAndGlyphs">R10.38</text></g><polyline points="715,699 817.5,699 817.5,959.5 715,959.5" fill="none" stroke="#ad1420" stroke-width="2.8" stroke-linejoin="miter"/><path d="M715,959.3 Q707,974 698.8,985.8 L685.4,1005.8" fill="none" stroke="#ad1420" stroke-width="2.8"/><line x1="685.4" y1="1005.8" x2="675.4" y2="1015.8" stroke="#1c1709" stroke-width="2.4" stroke-linecap="butt"/><polygon points="689.61,1006.65 687.54,1007.24 687.78,1009.38 685.89,1008.33 684.55,1010.01 683.96,1007.94 681.82,1008.18 682.87,1006.29 681.19,1004.95 683.26,1004.36 683.02,1002.22 684.91,1003.27 686.25,1001.59 686.84,1003.66 688.98,1003.42 687.93,1005.31" fill="#1c1709"/><polygon points="703.01,986.65 700.94,987.24 701.18,989.38 699.29,988.33 697.95,990.01 697.36,987.94 695.22,988.18 696.27,986.29 694.59,984.95 696.66,984.36 696.42,982.22 698.31,983.27 699.65,981.59 700.24,983.66 702.38,983.42 701.33,985.31" fill="#1c1709"/><g transform="translate(715.5 998) rotate(40)"><text x="0" y="2.95" font-size="8.2" text-anchor="middle" fill="#2e2a26" font-weight="normal" textLength="23" lengthAdjust="spacingAndGlyphs">R10.38</text></g><line x1="715" y1="673.9" x2="817.5" y2="673.9" stroke="#1c1709" stroke-width="2.2" stroke-linecap="butt"/><polygon points="719.21,674.75 717.14,675.34 717.38,677.48 715.49,676.43 714.15,678.11 713.56,676.04 711.42,676.28 712.47,674.39 710.79,673.05 712.86,672.46 712.62,670.32 714.51,671.37 715.85,669.69 716.44,671.76 718.58,671.52 717.53,673.41" fill="#1c1709"/><polygon points="821.71,674.75 819.64,675.34 819.88,677.48 817.99,676.43 816.65,678.11 816.06,676.04 813.92,676.28 814.97,674.39 813.29,673.05 815.36,672.46 815.12,670.32 817.01,671.37 818.35,669.69 818.94,671.76 821.08,671.52 820.03,673.41" fill="#1c1709"/><g transform="translate(766.25 673.9) rotate(0)"><rect x="-8.7" y="-4.3" width="17.4" height="8.59" fill="#fff8e9" stroke="none" stroke-width="0"/><text x="0" y="3.1" font-size="8.6" text-anchor="middle" fill="#2e2a26" font-weight="normal" textLength="15" lengthAdjust="spacingAndGlyphs">8.77</text></g><line x1="715" y1="983.3" x2="817.5" y2="983.3" stroke="#1c1709" stroke-width="2.2" stroke-linecap="butt"/><polygon points="719.21,984.15 717.14,984.74 717.38,986.88 715.49,985.83 714.15,987.51 713.56,985.44 711.42,985.68 712.47,983.79 710.79,982.45 712.86,981.86 712.62,979.72 714.51,980.77 715.85,979.09 716.44,981.16 718.58,980.92 717.53,982.81" fill="#1c1709"/><polygon points="821.71,984.15 819.64,984.74 819.88,986.88 817.99,985.83 816.65,987.51 816.06,985.44 813.92,985.68 814.97,983.79 813.29,982.45 815.36,981.86 815.12,979.72 817.01,980.77 818.35,979.09 818.94,981.16 821.08,980.92 820.03,982.81" fill="#1c1709"/><g transform="translate(766.25 983.3) rotate(0)"><rect x="-8.7" y="-4.3" width="17.4" height="8.59" fill="#fff8e9" stroke="none" stroke-width="0"/><text x="0" y="3.1" font-size="8.6" text-anchor="middle" fill="#2e2a26" font-weight="normal" textLength="15" lengthAdjust="spacingAndGlyphs">8.77</text></g><line x1="714.2" y1="673.9" x2="714.2" y2="698" stroke="#1c1709" stroke-width="2.2" stroke-linecap="butt"/><line x1="817.5" y1="673.9" x2="817.5" y2="699" stroke="#1c1709" stroke-width="2.2" stroke-linecap="butt"/><line x1="714.2" y1="960.5" x2="714.2" y2="983.3" stroke="#1c1709" stroke-width="2.2" stroke-linecap="butt"/><line x1="817.5" y1="959.5" x2="817.5" y2="983.3" stroke="#1c1709" stroke-width="2.2" stroke-linecap="butt"/><line x1="817.5" y1="698.5" x2="842.5" y2="698.5" stroke="#1c1709" stroke-width="2" stroke-linecap="butt"/><line x1="817.5" y1="960" x2="842.5" y2="960" stroke="#1c1709" stroke-width="2" stroke-linecap="butt"/><line x1="832.5" y1="699" x2="832.5" y2="959.5" stroke="#1c1709" stroke-width="2" stroke-dasharray="9 3" stroke-linecap="butt"/><line x1="842.5" y1="699" x2="842.5" y2="959.5" stroke="#1c1709" stroke-width="2.2" stroke-linecap="butt"/><polygon points="846.71,699.85 844.64,700.44 844.88,702.58 842.99,701.53 841.65,703.21 841.06,701.14 838.92,701.38 839.97,699.49 838.29,698.15 840.36,697.56 840.12,695.42 842.01,696.47 843.35,694.79 843.94,696.86 846.08,696.62 845.03,698.51" fill="#1c1709"/><polygon points="846.71,960.85 844.64,961.44 844.88,963.58 842.99,962.53 841.65,964.21 841.06,962.14 838.92,962.38 839.97,960.49 838.29,959.15 840.36,958.56 840.12,956.42 842.01,957.47 843.35,955.79 843.94,957.86 846.08,957.62 845.03,959.51" fill="#1c1709"/><polygon points="821.03,830.72 819.29,831.21 819.49,833 817.91,832.12 816.78,833.53 816.29,831.79 814.5,831.99 815.38,830.41 813.97,829.28 815.71,828.79 815.51,827 817.09,827.88 818.22,826.47 818.71,828.21 820.5,828.01 819.62,829.59" fill="#1c1709"/><polygon points="836.03,830.72 834.29,831.21 834.49,833 832.91,832.12 831.78,833.53 831.29,831.79 829.5,831.99 830.38,830.41 828.97,829.28 830.71,828.79 830.51,827 832.09,827.88 833.22,826.47 833.71,828.21 835.5,828.01 834.62,829.59" fill="#1c1709"/><g transform="translate(825.5 768.5) rotate(-90)"><text x="0" y="2.45" font-size="6.8" text-anchor="middle" fill="#24201c" font-weight="normal" textLength="86" lengthAdjust="spacingAndGlyphs">0.60 MT. W. ARCH PROJECTION</text></g><g transform="translate(827 830) rotate(0)"><text x="0" y="2.7" font-size="7.5" text-anchor="middle" fill="#2e2a26" font-weight="normal" textLength="9" lengthAdjust="spacingAndGlyphs">.60</text></g><g transform="translate(842.5 830) rotate(-90)"><rect x="-8.7" y="-4.3" width="17.4" height="8.59" fill="#fff8e9" stroke="none" stroke-width="0"/><text x="0" y="3.1" font-size="8.6" text-anchor="middle" fill="#2e2a26" font-weight="normal" textLength="15" lengthAdjust="spacingAndGlyphs">8.75</text></g><line x1="1220.4" y1="640.6" x2="1201" y2="659" stroke="#ad1420" stroke-width="3" stroke-linecap="butt"/><line x1="1220.4" y1="640.6" x2="1201" y2="659" stroke="#1c1709" stroke-width="1.8" stroke-linecap="butt"/><path d="M1201,659 Q1193,674 1180,699" fill="none" stroke="#ad1420" stroke-width="2.8"/><polygon points="1205.21,659.85 1203.14,660.44 1203.38,662.58 1201.49,661.53 1200.15,663.21 1199.56,661.14 1197.42,661.38 1198.47,659.49 1196.79,658.15 1198.86,657.56 1198.62,655.42 1200.51,656.47 1201.85,654.79 1202.44,656.86 1204.58,656.62 1203.53,658.51" fill="#1c1709"/><polyline points="1180,699 1077.5,699 1077.5,959.5 1180,959.5" fill="none" stroke="#ad1420" stroke-width="2.8" stroke-linejoin="miter"/><path d="M1180,959.3 Q1188,974 1196.2,985.8 L1209.6,1005.8" fill="none" stroke="#ad1420" stroke-width="2.8"/><line x1="1209.6" y1="1005.8" x2="1219.6" y2="1015.8" stroke="#1c1709" stroke-width="2.4" stroke-linecap="butt"/><polygon points="1213.81,1006.65 1211.74,1007.24 1211.98,1009.38 1210.09,1008.33 1208.75,1010.01 1208.16,1007.94 1206.02,1008.18 1207.07,1006.29 1205.39,1004.95 1207.46,1004.36 1207.22,1002.22 1209.11,1003.27 1210.45,1001.59 1211.04,1003.66 1213.18,1003.42 1212.13,1005.31" fill="#1c1709"/><line x1="1180" y1="673.9" x2="1077.5" y2="673.9" stroke="#1c1709" stroke-width="2.2" stroke-linecap="butt"/><polygon points="1184.21,674.75 1182.14,675.34 1182.38,677.48 1180.49,676.43 1179.15,678.11 1178.56,676.04 1176.42,676.28 1177.47,674.39 1175.79,673.05 1177.86,672.46 1177.62,670.32 1179.51,671.37 1180.85,669.69 1181.44,671.76 1183.58,671.52 1182.53,673.41" fill="#1c1709"/><polygon points="1081.71,674.75 1079.64,675.34 1079.88,677.48 1077.99,676.43 1076.65,678.11 1076.06,676.04 1073.92,676.28 1074.97,674.39 1073.29,673.05 1075.36,672.46 1075.12,670.32 1077.01,671.37 1078.35,669.69 1078.94,671.76 1081.08,671.52 1080.03,673.41" fill="#1c1709"/><g transform="translate(1128.75 673.9) rotate(0)"><rect x="-8.7" y="-4.3" width="17.4" height="8.59" fill="#fff8e9" stroke="none" stroke-width="0"/><text x="0" y="3.1" font-size="8.6" text-anchor="middle" fill="#2e2a26" font-weight="normal" textLength="15" lengthAdjust="spacingAndGlyphs">8.77</text></g><line x1="1180" y1="983.3" x2="1077.5" y2="983.3" stroke="#1c1709" stroke-width="2.2" stroke-linecap="butt"/><polygon points="1184.21,984.15 1182.14,984.74 1182.38,986.88 1180.49,985.83 1179.15,987.51 1178.56,985.44 1176.42,985.68 1177.47,983.79 1175.79,982.45 1177.86,981.86 1177.62,979.72 1179.51,980.77 1180.85,979.09 1181.44,981.16 1183.58,980.92 1182.53,982.81" fill="#1c1709"/><polygon points="1081.71,984.15 1079.64,984.74 1079.88,986.88 1077.99,985.83 1076.65,987.51 1076.06,985.44 1073.92,985.68 1074.97,983.79 1073.29,982.45 1075.36,981.86 1075.12,979.72 1077.01,980.77 1078.35,979.09 1078.94,981.16 1081.08,980.92 1080.03,982.81" fill="#1c1709"/><g transform="translate(1128.75 983.3) rotate(0)"><rect x="-8.7" y="-4.3" width="17.4" height="8.59" fill="#fff8e9" stroke="none" stroke-width="0"/><text x="0" y="3.1" font-size="8.6" text-anchor="middle" fill="#2e2a26" font-weight="normal" textLength="15" lengthAdjust="spacingAndGlyphs">8.77</text></g><line x1="1180.8" y1="673.9" x2="1180.8" y2="698" stroke="#1c1709" stroke-width="2.2" stroke-linecap="butt"/><line x1="1077.5" y1="673.9" x2="1077.5" y2="699" stroke="#1c1709" stroke-width="2.2" stroke-linecap="butt"/><line x1="1180.8" y1="960.5" x2="1180.8" y2="983.3" stroke="#1c1709" stroke-width="2.2" stroke-linecap="butt"/><line x1="1077.5" y1="959.5" x2="1077.5" y2="983.3" stroke="#1c1709" stroke-width="2.2" stroke-linecap="butt"/><line x1="1077.5" y1="698.5" x2="1052.5" y2="698.5" stroke="#1c1709" stroke-width="2" stroke-linecap="butt"/><line x1="1077.5" y1="960" x2="1052.5" y2="960" stroke="#1c1709" stroke-width="2" stroke-linecap="butt"/><line x1="1062.5" y1="699" x2="1062.5" y2="959.5" stroke="#1c1709" stroke-width="2" stroke-dasharray="9 3" stroke-linecap="butt"/><line x1="1052.5" y1="699" x2="1052.5" y2="959.5" stroke="#1c1709" stroke-width="2.2" stroke-linecap="butt"/><polygon points="1056.71,699.85 1054.64,700.44 1054.88,702.58 1052.99,701.53 1051.65,703.21 1051.06,701.14 1048.92,701.38 1049.97,699.49 1048.29,698.15 1050.36,697.56 1050.12,695.42 1052.01,696.47 1053.35,694.79 1053.94,696.86 1056.08,696.62 1055.03,698.51" fill="#1c1709"/><polygon points="1056.71,960.85 1054.64,961.44 1054.88,963.58 1052.99,962.53 1051.65,964.21 1051.06,962.14 1048.92,962.38 1049.97,960.49 1048.29,959.15 1050.36,958.56 1050.12,956.42 1052.01,957.47 1053.35,955.79 1053.94,957.86 1056.08,957.62 1055.03,959.51" fill="#1c1709"/><polygon points="1081.03,840.72 1079.29,841.21 1079.49,843 1077.91,842.12 1076.78,843.53 1076.29,841.79 1074.5,841.99 1075.38,840.41 1073.97,839.28 1075.71,838.79 1075.51,837 1077.09,837.88 1078.22,836.47 1078.71,838.21 1080.5,838.01 1079.62,839.59" fill="#1c1709"/><polygon points="1066.03,840.72 1064.29,841.21 1064.49,843 1062.91,842.12 1061.78,843.53 1061.29,841.79 1059.5,841.99 1060.38,840.41 1058.97,839.28 1060.71,838.79 1060.51,837 1062.09,837.88 1063.22,836.47 1063.71,838.21 1065.5,838.01 1064.62,839.59" fill="#1c1709"/><g transform="translate(1069.5 768.5) rotate(-90)"><text x="0" y="2.45" font-size="6.8" text-anchor="middle" fill="#24201c" font-weight="normal" textLength="86" lengthAdjust="spacingAndGlyphs">0.60 MT. W. ARCH PROJECTION</text></g><g transform="translate(1068 840) rotate(0)"><text x="0" y="2.7" font-size="7.5" text-anchor="middle" fill="#2e2a26" font-weight="normal" textLength="9" lengthAdjust="spacingAndGlyphs">.60</text></g><g transform="translate(1052.5 830) rotate(-90)"><rect x="-8.7" y="-4.3" width="17.4" height="8.59" fill="#fff8e9" stroke="none" stroke-width="0"/><text x="0" y="3.1" font-size="8.6" text-anchor="middle" fill="#2e2a26" font-weight="normal" textLength="15" lengthAdjust="spacingAndGlyphs">8.75</text></g><line x1="1627.1" y1="640.6" x2="1646.5" y2="659" stroke="#ad1420" stroke-width="3" stroke-linecap="butt"/><line x1="1627.1" y1="640.6" x2="1646.5" y2="659" stroke="#1c1709" stroke-width="1.8" stroke-linecap="butt"/><path d="M1646.5,659 Q1654.5,674 1667.5,699" fill="none" stroke="#ad1420" stroke-width="2.8"/><polygon points="1650.71,659.85 1648.64,660.44 1648.88,662.58 1646.99,661.53 1645.65,663.21 1645.06,661.14 1642.92,661.38 1643.97,659.49 1642.29,658.15 1644.36,657.56 1644.12,655.42 1646.01,656.47 1647.35,654.79 1647.94,656.86 1650.08,656.62 1649.03,658.51" fill="#1c1709"/><polygon points="1654.21,672.55 1652.14,673.14 1652.38,675.28 1650.49,674.23 1649.15,675.91 1648.56,673.84 1646.42,674.08 1647.47,672.19 1645.79,670.85 1647.86,670.26 1647.62,668.12 1649.51,669.17 1650.85,667.49 1651.44,669.56 1653.58,669.32 1652.53,671.21" fill="#1c1709"/><line x1="1650" y1="671.7" x2="1644" y2="676.7" stroke="#1c1709" stroke-width="1.5" stroke-linecap="butt"/><g transform="translate(1633 682.7) rotate(-42)"><text x="0" y="2.95" font-size="8.2" text-anchor="middle" fill="#2e2a26" font-weight="normal" textLength="23" lengthAdjust="spacingAndGlyphs">R10.38</text></g><polyline points="1667.5,699 1770,699 1770,959.5 1667.5,959.5" fill="none" stroke="#ad1420" stroke-width="2.8" stroke-linejoin="miter"/><path d="M1667.5,959.3 Q1659.5,974 1651.3,985.8 L1637.9,1005.8" fill="none" stroke="#ad1420" stroke-width="2.8"/><line x1="1637.9" y1="1005.8" x2="1627.9" y2="1015.8" stroke="#1c1709" stroke-width="2.4" stroke-linecap="butt"/><polygon points="1642.11,1006.65 1640.04,1007.24 1640.28,1009.38 1638.39,1008.33 1637.05,1010.01 1636.46,1007.94 1634.32,1008.18 1635.37,1006.29 1633.69,1004.95 1635.76,1004.36 1635.52,1002.22 1637.41,1003.27 1638.75,1001.59 1639.34,1003.66 1641.48,1003.42 1640.43,1005.31" fill="#1c1709"/><line x1="1667.5" y1="679" x2="1770" y2="679" stroke="#1c1709" stroke-width="2.2" stroke-linecap="butt"/><polygon points="1671.71,679.85 1669.64,680.44 1669.88,682.58 1667.99,681.53 1666.65,683.21 1666.06,681.14 1663.92,681.38 1664.97,679.49 1663.29,678.15 1665.36,677.56 1665.12,675.42 1667.01,676.47 1668.35,674.79 1668.94,676.86 1671.08,676.62 1670.03,678.51" fill="#1c1709"/><polygon points="1774.21,679.85 1772.14,680.44 1772.38,682.58 1770.49,681.53 1769.15,683.21 1768.56,681.14 1766.42,681.38 1767.47,679.49 1765.79,678.15 1767.86,677.56 1767.62,675.42 1769.51,676.47 1770.85,674.79 1771.44,676.86 1773.58,676.62 1772.53,678.51" fill="#1c1709"/><g transform="translate(1718.75 679) rotate(0)"><rect x="-8.7" y="-4.3" width="17.4" height="8.59" fill="#fff8e9" stroke="none" stroke-width="0"/><text x="0" y="3.1" font-size="8.6" text-anchor="middle" fill="#2e2a26" font-weight="normal" textLength="15" lengthAdjust="spacingAndGlyphs">8.77</text></g><line x1="1667.5" y1="983.3" x2="1770" y2="983.3" stroke="#1c1709" stroke-width="2.2" stroke-linecap="butt"/><polygon points="1671.71,984.15 1669.64,984.74 1669.88,986.88 1667.99,985.83 1666.65,987.51 1666.06,985.44 1663.92,985.68 1664.97,983.79 1663.29,982.45 1665.36,981.86 1665.12,979.72 1667.01,980.77 1668.35,979.09 1668.94,981.16 1671.08,980.92 1670.03,982.81" fill="#1c1709"/><polygon points="1774.21,984.15 1772.14,984.74 1772.38,986.88 1770.49,985.83 1769.15,987.51 1768.56,985.44 1766.42,985.68 1767.47,983.79 1765.79,982.45 1767.86,981.86 1767.62,979.72 1769.51,980.77 1770.85,979.09 1771.44,981.16 1773.58,980.92 1772.53,982.81" fill="#1c1709"/><g transform="translate(1718.75 983.3) rotate(0)"><rect x="-8.7" y="-4.3" width="17.4" height="8.59" fill="#fff8e9" stroke="none" stroke-width="0"/><text x="0" y="3.1" font-size="8.6" text-anchor="middle" fill="#2e2a26" font-weight="normal" textLength="15" lengthAdjust="spacingAndGlyphs">8.77</text></g><line x1="1666.7" y1="679" x2="1666.7" y2="698" stroke="#1c1709" stroke-width="2.2" stroke-linecap="butt"/><line x1="1770" y1="679" x2="1770" y2="699" stroke="#1c1709" stroke-width="2.2" stroke-linecap="butt"/><line x1="1666.7" y1="960.5" x2="1666.7" y2="983.3" stroke="#1c1709" stroke-width="2.2" stroke-linecap="butt"/><line x1="1770" y1="959.5" x2="1770" y2="983.3" stroke="#1c1709" stroke-width="2.2" stroke-linecap="butt"/><line x1="858" y1="332.5" x2="858" y2="821" stroke="#1c1709" stroke-width="2.5" stroke-linecap="butt"/><line x1="861.8" y1="333" x2="861.8" y2="818" stroke="#1c1709" stroke-width="1.6" stroke-linecap="butt"/><line x1="1037.5" y1="324" x2="1037.5" y2="821" stroke="#1c1709" stroke-width="2.5" stroke-linecap="butt"/><line x1="1034.2" y1="325" x2="1034.2" y2="818" stroke="#1c1709" stroke-width="1.6" stroke-linecap="butt"/><line x1="857" y1="332.5" x2="1038.5" y2="324" stroke="#1c1709" stroke-width="2.2" stroke-linecap="butt"/><line x1="857" y1="820.5" x2="1038.5" y2="820.5" stroke="#1c1709" stroke-width="2.5" stroke-linecap="butt"/><line x1="862" y1="817.6" x2="1034" y2="817.6" stroke="#1c1709" stroke-width="1.8" stroke-linecap="butt"/><line x1="877.7" y1="332" x2="877.7" y2="821" stroke="#1c1709" stroke-width="2.2" stroke-linecap="butt"/><line x1="947" y1="329" x2="947" y2="820" stroke="#1c1709" stroke-width="2" stroke-linecap="butt"/><line x1="862" y1="370.2" x2="1034" y2="370.2" stroke="#1c1709" stroke-width="2.1" stroke-linecap="butt"/><line x1="862" y1="394.9" x2="1034" y2="394.9" stroke="#1c1709" stroke-width="2.1" stroke-linecap="butt"/><line x1="862" y1="419.5" x2="1034" y2="419.5" stroke="#1c1709" stroke-width="2.1" stroke-linecap="butt"/><line x1="862" y1="443.6" x2="1034" y2="443.6" stroke="#1c1709" stroke-width="2.1" stroke-linecap="butt"/><line x1="862" y1="463.8" x2="1034" y2="463.8" stroke="#1c1709" stroke-width="2.1" stroke-linecap="butt"/><line x1="862" y1="485" x2="1034" y2="485" stroke="#1c1709" stroke-width="2.1" stroke-linecap="butt"/><line x1="862" y1="505" x2="1034" y2="505" stroke="#1c1709" stroke-width="2.1" stroke-linecap="butt"/><line x1="862" y1="525.8" x2="1034" y2="525.8" stroke="#1c1709" stroke-width="2.1" stroke-linecap="butt"/><line x1="862" y1="546.3" x2="1034" y2="546.3" stroke="#1c1709" stroke-width="2.1" stroke-linecap="butt"/><line x1="862" y1="562.5" x2="1034" y2="562.5" stroke="#1c1709" stroke-width="2.1" stroke-linecap="butt"/><line x1="862" y1="578.3" x2="1034" y2="578.3" stroke="#1c1709" stroke-width="2.1" stroke-linecap="butt"/><line x1="862" y1="595" x2="1034" y2="595" stroke="#1c1709" stroke-width="2.1" stroke-linecap="butt"/><line x1="862" y1="611.2" x2="1034" y2="611.2" stroke="#1c1709" stroke-width="2.1" stroke-linecap="butt"/><line x1="862" y1="627.5" x2="1034" y2="627.5" stroke="#1c1709" stroke-width="2.1" stroke-linecap="butt"/><line x1="862" y1="640.8" x2="1034" y2="640.8" stroke="#1c1709" stroke-width="2.1" stroke-linecap="butt"/><line x1="862" y1="653" x2="1034" y2="653" stroke="#1c1709" stroke-width="2.1" stroke-linecap="butt"/><line x1="862" y1="665.5" x2="1034" y2="665.5" stroke="#1c1709" stroke-width="2.1" stroke-linecap="butt"/><line x1="862" y1="676.6" x2="1034" y2="676.6" stroke="#1c1709" stroke-width="2.1" stroke-linecap="butt"/><line x1="862" y1="688.75" x2="1034" y2="688.75" stroke="#1c1709" stroke-width="2.1" stroke-linecap="butt"/><line x1="862" y1="699.4" x2="1034" y2="699.4" stroke="#1c1709" stroke-width="2.1" stroke-linecap="butt"/><line x1="862" y1="709" x2="1034" y2="709" stroke="#1c1709" stroke-width="2.1" stroke-linecap="butt"/><line x1="862" y1="719.2" x2="1034" y2="719.2" stroke="#1c1709" stroke-width="2.1" stroke-linecap="butt"/><line x1="862" y1="729.8" x2="1034" y2="729.8" stroke="#1c1709" stroke-width="2.1" stroke-linecap="butt"/><line x1="862" y1="739.5" x2="1034" y2="739.5" stroke="#1c1709" stroke-width="2.1" stroke-linecap="butt"/><line x1="862" y1="748.1" x2="1034" y2="748.1" stroke="#1c1709" stroke-width="2.1" stroke-linecap="butt"/><line x1="862" y1="756.25" x2="1034" y2="756.25" stroke="#1c1709" stroke-width="2.1" stroke-linecap="butt"/><line x1="862" y1="764" x2="1034" y2="764" stroke="#1c1709" stroke-width="2.1" stroke-linecap="butt"/><line x1="862" y1="772.3" x2="1034" y2="772.3" stroke="#1c1709" stroke-width="2.1" stroke-linecap="butt"/><line x1="862" y1="780.2" x2="1034" y2="780.2" stroke="#1c1709" stroke-width="2.1" stroke-linecap="butt"/><line x1="862" y1="786.9" x2="1034" y2="786.9" stroke="#1c1709" stroke-width="2.1" stroke-linecap="butt"/><line x1="862" y1="793.1" x2="1034" y2="793.1" stroke="#1c1709" stroke-width="2.1" stroke-linecap="butt"/><line x1="862" y1="798.9" x2="1034" y2="798.9" stroke="#1c1709" stroke-width="2.1" stroke-linecap="butt"/><line x1="862" y1="805.2" x2="1034" y2="805.2" stroke="#1c1709" stroke-width="2.1" stroke-linecap="butt"/><line x1="862" y1="811" x2="1034" y2="811" stroke="#1c1709" stroke-width="2.1" stroke-linecap="butt"/><polygon points="942.5,793 952.5,793 947.5,815" fill="#1c1709" stroke="#1c1709" stroke-width="0.1" stroke-linejoin="miter"/><text x="948" y="327.5" font-size="7" text-anchor="middle" fill="#2e2a26" font-weight="normal">DN</text><polygon points="881.91,333.85 879.84,334.44 880.08,336.58 878.19,335.53 876.85,337.21 876.26,335.14 874.12,335.38 875.17,333.49 873.49,332.15 875.56,331.56 875.32,329.42 877.21,330.47 878.55,328.79 879.14,330.86 881.28,330.62 880.23,332.51" fill="#1c1709"/><polygon points="881.91,818.85 879.84,819.44 880.08,821.58 878.19,820.53 876.85,822.21 876.26,820.14 874.12,820.38 875.17,818.49 873.49,817.15 875.56,816.56 875.32,814.42 877.21,815.47 878.55,813.79 879.14,815.86 881.28,815.62 880.23,817.51" fill="#1c1709"/><g transform="translate(877.7 570) rotate(90)"><rect x="-8.7" y="-4.3" width="17.4" height="8.59" fill="#fff8e9" stroke="none" stroke-width="0"/><text x="0" y="3.1" font-size="8.6" text-anchor="middle" fill="#2e2a26" font-weight="normal" textLength="15" lengthAdjust="spacingAndGlyphs">1.08</text></g><line x1="861" y1="835.6" x2="1034.5" y2="835.6" stroke="#1c1709" stroke-width="2.2" stroke-linecap="butt"/><line x1="861" y1="821" x2="861" y2="836" stroke="#1c1709" stroke-width="2" stroke-linecap="butt"/><line x1="1034.5" y1="821" x2="1034.5" y2="836" stroke="#1c1709" stroke-width="2" stroke-linecap="butt"/><polygon points="865.21,836.45 863.14,837.04 863.38,839.18 861.49,838.13 860.15,839.81 859.56,837.74 857.42,837.98 858.47,836.09 856.79,834.75 858.86,834.16 858.62,832.02 860.51,833.07 861.85,831.39 862.44,833.46 864.58,833.22 863.53,835.11" fill="#1c1709"/><polygon points="1038.71,836.45 1036.64,837.04 1036.88,839.18 1034.99,838.13 1033.65,839.81 1033.06,837.74 1030.92,837.98 1031.97,836.09 1030.29,834.75 1032.36,834.16 1032.12,832.02 1034.01,833.07 1035.35,831.39 1035.94,833.46 1038.08,833.22 1037.03,835.11" fill="#1c1709"/><g transform="translate(947.5 835.6) rotate(0)"><rect x="-8.7" y="-4.3" width="17.4" height="8.59" fill="#fff8e9" stroke="none" stroke-width="0"/><text x="0" y="3.1" font-size="8.6" text-anchor="middle" fill="#2e2a26" font-weight="normal" textLength="15" lengthAdjust="spacingAndGlyphs">6.42</text></g><polygon points="862.21,453.85 860.14,454.44 860.38,456.58 858.49,455.53 857.15,457.21 856.56,455.14 854.42,455.38 855.47,453.49 853.79,452.15 855.86,451.56 855.62,449.42 857.51,450.47 858.85,448.79 859.44,450.86 861.58,450.62 860.53,452.51" fill="#1c1709"/><polygon points="1041.71,453.85 1039.64,454.44 1039.88,456.58 1037.99,455.53 1036.65,457.21 1036.06,455.14 1033.92,455.38 1034.97,453.49 1033.29,452.15 1035.36,451.56 1035.12,449.42 1037.01,450.47 1038.35,448.79 1038.94,450.86 1041.08,450.62 1040.03,452.51" fill="#1c1709"/><line x1="334" y1="698.8" x2="550.25" y2="698.8" stroke="#1c1709" stroke-width="2.6" stroke-linecap="butt"/><line x1="549.25" y1="698.8" x2="549.25" y2="966" stroke="#1c1709" stroke-width="2.6" stroke-linecap="butt"/><text x="467.75" y="720.3" font-size="8" text-anchor="middle" fill="#2b2723" font-weight="normal" textLength="73" lengthAdjust="spacingAndGlyphs">1.83 MT. W. PASSAGE</text><text x="467.75" y="944.3" font-size="8" text-anchor="middle" fill="#2b2723" font-weight="normal" textLength="73" lengthAdjust="spacingAndGlyphs">1.83 MT. W. PASSAGE</text><line x1="398.25" y1="743" x2="446.75" y2="743" stroke="#1c1709" stroke-width="2.1" stroke-linecap="butt"/><line x1="497.25" y1="743" x2="545.25" y2="743" stroke="#1c1709" stroke-width="2.1" stroke-linecap="butt"/><line x1="398.25" y1="749.8" x2="446.75" y2="749.8" stroke="#1c1709" stroke-width="2.1" stroke-linecap="butt"/><line x1="497.25" y1="749.8" x2="545.25" y2="749.8" stroke="#1c1709" stroke-width="2.1" stroke-linecap="butt"/><line x1="398.25" y1="756.6" x2="446.75" y2="756.6" stroke="#1c1709" stroke-width="2.1" stroke-linecap="butt"/><line x1="497.25" y1="756.6" x2="545.25" y2="756.6" stroke="#1c1709" stroke-width="2.1" stroke-linecap="butt"/><line x1="398.25" y1="763.4" x2="446.75" y2="763.4" stroke="#1c1709" stroke-width="2.1" stroke-linecap="butt"/><line x1="497.25" y1="763.4" x2="545.25" y2="763.4" stroke="#1c1709" stroke-width="2.1" stroke-linecap="butt"/><line x1="398.25" y1="770.2" x2="446.75" y2="770.2" stroke="#1c1709" stroke-width="2.1" stroke-linecap="butt"/><line x1="497.25" y1="770.2" x2="545.25" y2="770.2" stroke="#1c1709" stroke-width="2.1" stroke-linecap="butt"/><line x1="398.25" y1="777" x2="446.75" y2="777" stroke="#1c1709" stroke-width="2.1" stroke-linecap="butt"/><line x1="497.25" y1="777" x2="545.25" y2="777" stroke="#1c1709" stroke-width="2.1" stroke-linecap="butt"/><line x1="398.25" y1="783.8" x2="446.75" y2="783.8" stroke="#1c1709" stroke-width="2.1" stroke-linecap="butt"/><line x1="497.25" y1="783.8" x2="545.25" y2="783.8" stroke="#1c1709" stroke-width="2.1" stroke-linecap="butt"/><line x1="398.25" y1="790.6" x2="446.75" y2="790.6" stroke="#1c1709" stroke-width="2.1" stroke-linecap="butt"/><line x1="497.25" y1="790.6" x2="545.25" y2="790.6" stroke="#1c1709" stroke-width="2.1" stroke-linecap="butt"/><line x1="398.25" y1="797.4" x2="446.75" y2="797.4" stroke="#1c1709" stroke-width="2.1" stroke-linecap="butt"/><line x1="497.25" y1="797.4" x2="545.25" y2="797.4" stroke="#1c1709" stroke-width="2.1" stroke-linecap="butt"/><line x1="398.25" y1="804.2" x2="446.75" y2="804.2" stroke="#1c1709" stroke-width="2.1" stroke-linecap="butt"/><line x1="497.25" y1="804.2" x2="545.25" y2="804.2" stroke="#1c1709" stroke-width="2.1" stroke-linecap="butt"/><line x1="420.75" y1="743" x2="420.75" y2="805.2" stroke="#1c1709" stroke-width="2.2" stroke-linecap="butt"/><line x1="521.25" y1="743" x2="521.25" y2="805.2" stroke="#1c1709" stroke-width="2.2" stroke-linecap="butt"/><line x1="398.25" y1="853.8" x2="446.75" y2="853.8" stroke="#1c1709" stroke-width="2.1" stroke-linecap="butt"/><line x1="497.25" y1="853.8" x2="545.25" y2="853.8" stroke="#1c1709" stroke-width="2.1" stroke-linecap="butt"/><line x1="398.25" y1="860.6" x2="446.75" y2="860.6" stroke="#1c1709" stroke-width="2.1" stroke-linecap="butt"/><line x1="497.25" y1="860.6" x2="545.25" y2="860.6" stroke="#1c1709" stroke-width="2.1" stroke-linecap="butt"/><line x1="398.25" y1="867.4" x2="446.75" y2="867.4" stroke="#1c1709" stroke-width="2.1" stroke-linecap="butt"/><line x1="497.25" y1="867.4" x2="545.25" y2="867.4" stroke="#1c1709" stroke-width="2.1" stroke-linecap="butt"/><line x1="398.25" y1="874.2" x2="446.75" y2="874.2" stroke="#1c1709" stroke-width="2.1" stroke-linecap="butt"/><line x1="497.25" y1="874.2" x2="545.25" y2="874.2" stroke="#1c1709" stroke-width="2.1" stroke-linecap="butt"/><line x1="398.25" y1="881" x2="446.75" y2="881" stroke="#1c1709" stroke-width="2.1" stroke-linecap="butt"/><line x1="497.25" y1="881" x2="545.25" y2="881" stroke="#1c1709" stroke-width="2.1" stroke-linecap="butt"/><line x1="398.25" y1="887.8" x2="446.75" y2="887.8" stroke="#1c1709" stroke-width="2.1" stroke-linecap="butt"/><line x1="497.25" y1="887.8" x2="545.25" y2="887.8" stroke="#1c1709" stroke-width="2.1" stroke-linecap="butt"/><line x1="398.25" y1="894.6" x2="446.75" y2="894.6" stroke="#1c1709" stroke-width="2.1" stroke-linecap="butt"/><line x1="497.25" y1="894.6" x2="545.25" y2="894.6" stroke="#1c1709" stroke-width="2.1" stroke-linecap="butt"/><line x1="398.25" y1="901.4" x2="446.75" y2="901.4" stroke="#1c1709" stroke-width="2.1" stroke-linecap="butt"/><line x1="497.25" y1="901.4" x2="545.25" y2="901.4" stroke="#1c1709" stroke-width="2.1" stroke-linecap="butt"/><line x1="398.25" y1="908.2" x2="446.75" y2="908.2" stroke="#1c1709" stroke-width="2.1" stroke-linecap="butt"/><line x1="497.25" y1="908.2" x2="545.25" y2="908.2" stroke="#1c1709" stroke-width="2.1" stroke-linecap="butt"/><line x1="398.25" y1="915" x2="446.75" y2="915" stroke="#1c1709" stroke-width="2.1" stroke-linecap="butt"/><line x1="497.25" y1="915" x2="545.25" y2="915" stroke="#1c1709" stroke-width="2.1" stroke-linecap="butt"/><line x1="420.75" y1="853.8" x2="420.75" y2="916" stroke="#1c1709" stroke-width="2.2" stroke-linecap="butt"/><line x1="521.25" y1="853.8" x2="521.25" y2="916" stroke="#1c1709" stroke-width="2.2" stroke-linecap="butt"/><line x1="545.75" y1="740" x2="545.75" y2="919" stroke="#1c1709" stroke-width="1.8" stroke-linecap="butt"/><line x1="548.75" y1="740" x2="548.75" y2="919" stroke="#1c1709" stroke-width="2.8" stroke-linecap="butt"/><line x1="446.95" y1="739.8" x2="446.95" y2="805" stroke="#1c1709" stroke-width="2.4" stroke-linecap="butt"/><line x1="496.3" y1="739.8" x2="496.3" y2="805" stroke="#1c1709" stroke-width="2.4" stroke-linecap="butt"/><line x1="450.25" y1="742.8" x2="450.25" y2="802" stroke="#1c1709" stroke-width="2" stroke-linecap="butt"/><line x1="493" y1="742.8" x2="493" y2="802" stroke="#1c1709" stroke-width="2" stroke-linecap="butt"/><polyline points="445.75,740.8 459.75,740.8 459.75,745.3" fill="none" stroke="#1c1709" stroke-width="2.2" stroke-linejoin="miter"/><polyline points="497.5,740.8 483.75,740.8 483.75,745.3" fill="none" stroke="#1c1709" stroke-width="2.2" stroke-linejoin="miter"/><polyline points="450.25,744.3 459.75,744.3" fill="none" stroke="#1c1709" stroke-width="1.6" stroke-linejoin="miter"/><polyline points="493,744.3 483.75,744.3" fill="none" stroke="#1c1709" stroke-width="1.6" stroke-linejoin="miter"/><line x1="445.75" y1="804" x2="497.5" y2="804" stroke="#1c1709" stroke-width="2.4" stroke-linecap="butt"/><line x1="450.25" y1="800.5" x2="493" y2="800.5" stroke="#1c1709" stroke-width="2" stroke-linecap="butt"/><line x1="459.75" y1="743.8" x2="483.75" y2="743.8" stroke="#999" stroke-width="0.8" stroke-linecap="butt"/><line x1="446.95" y1="855" x2="446.95" y2="918.3" stroke="#1c1709" stroke-width="2.4" stroke-linecap="butt"/><line x1="496.3" y1="855" x2="496.3" y2="918.3" stroke="#1c1709" stroke-width="2.4" stroke-linecap="butt"/><line x1="450.25" y1="858" x2="450.25" y2="915.3" stroke="#1c1709" stroke-width="2" stroke-linecap="butt"/><line x1="493" y1="858" x2="493" y2="915.3" stroke="#1c1709" stroke-width="2" stroke-linecap="butt"/><polyline points="445.75,917.3 459.75,917.3 459.75,912.8" fill="none" stroke="#1c1709" stroke-width="2.2" stroke-linejoin="miter"/><polyline points="497.5,917.3 483.75,917.3 483.75,912.8" fill="none" stroke="#1c1709" stroke-width="2.2" stroke-linejoin="miter"/><polyline points="450.25,913.8 459.75,913.8" fill="none" stroke="#1c1709" stroke-width="1.6" stroke-linejoin="miter"/><polyline points="493,913.8 483.75,913.8" fill="none" stroke="#1c1709" stroke-width="1.6" stroke-linejoin="miter"/><line x1="445.75" y1="856" x2="497.5" y2="856" stroke="#1c1709" stroke-width="2.4" stroke-linecap="butt"/><line x1="450.25" y1="859.5" x2="493" y2="859.5" stroke="#1c1709" stroke-width="2" stroke-linecap="butt"/><line x1="459.75" y1="914.3" x2="483.75" y2="914.3" stroke="#999" stroke-width="0.8" stroke-linecap="butt"/><text x="470.75" y="771" font-size="8.2" text-anchor="middle" fill="#2b2723" font-weight="normal" textLength="14.5" lengthAdjust="spacingAndGlyphs">LIFT</text><text x="470.75" y="781.3" font-size="8.2" text-anchor="middle" fill="#2b2723" font-weight="normal" textLength="35" lengthAdjust="spacingAndGlyphs">1.60 X 2.10</text><text x="470.75" y="881.7" font-size="8.2" text-anchor="middle" fill="#2b2723" font-weight="normal" textLength="14.5" lengthAdjust="spacingAndGlyphs">LIFT</text><text x="470.75" y="892.5" font-size="8.2" text-anchor="middle" fill="#2b2723" font-weight="normal" textLength="35" lengthAdjust="spacingAndGlyphs">1.60 X 2.10</text><line x1="398.25" y1="812.9" x2="446.75" y2="812.9" stroke="#1c1709" stroke-width="2" stroke-linecap="butt"/><line x1="496.75" y1="812.9" x2="546.25" y2="812.9" stroke="#1c1709" stroke-width="2" stroke-linecap="butt"/><polygon points="446.75,812.9 440.75,809.5 440.75,816.3" fill="#1c1709"/><polygon points="447.39,813.54 445.84,813.97 446.02,815.57 444.62,814.78 443.61,816.04 443.18,814.49 441.58,814.67 442.37,813.27 441.11,812.26 442.66,811.83 442.48,810.23 443.88,811.02 444.89,809.76 445.32,811.31 446.92,811.13 446.13,812.53" fill="#1c1709"/><polygon points="496.75,812.9 502.75,809.5 502.75,816.3" fill="#1c1709"/><polygon points="502.39,813.54 500.84,813.97 501.02,815.57 499.62,814.78 498.61,816.04 498.18,814.49 496.58,814.67 497.37,813.27 496.11,812.26 497.66,811.83 497.48,810.23 498.88,811.02 499.89,809.76 500.32,811.31 501.92,811.13 501.13,812.53" fill="#1c1709"/><polygon points="401.39,813.54 399.84,813.97 400.02,815.57 398.62,814.78 397.61,816.04 397.18,814.49 395.58,814.67 396.37,813.27 395.11,812.26 396.66,811.83 396.48,810.23 397.88,811.02 398.89,809.76 399.32,811.31 400.92,811.13 400.13,812.53" fill="#1c1709"/><polygon points="549.39,813.54 547.84,813.97 548.02,815.57 546.62,814.78 545.61,816.04 545.18,814.49 543.58,814.67 544.37,813.27 543.11,812.26 544.66,811.83 544.48,810.23 545.88,811.02 546.89,809.76 547.32,811.31 548.92,811.13 548.13,812.53" fill="#1c1709"/><g transform="translate(421.25 812.9) rotate(0)"><rect x="-8.7" y="-4.3" width="17.4" height="8.59" fill="#fff8e9" stroke="none" stroke-width="0"/><text x="0" y="3.1" font-size="8.6" text-anchor="middle" fill="#2e2a26" font-weight="normal" textLength="15" lengthAdjust="spacingAndGlyphs">2.00</text></g><g transform="translate(521.25 812.9) rotate(0)"><rect x="-8.7" y="-4.3" width="17.4" height="8.59" fill="#fff8e9" stroke="none" stroke-width="0"/><text x="0" y="3.1" font-size="8.6" text-anchor="middle" fill="#2e2a26" font-weight="normal" textLength="15" lengthAdjust="spacingAndGlyphs">2.00</text></g><line x1="398.25" y1="845.8" x2="446.75" y2="845.8" stroke="#1c1709" stroke-width="2" stroke-linecap="butt"/><line x1="496.75" y1="845.8" x2="546.25" y2="845.8" stroke="#1c1709" stroke-width="2" stroke-linecap="butt"/><polygon points="446.75,845.8 440.75,842.4 440.75,849.2" fill="#1c1709"/><polygon points="447.39,846.44 445.84,846.87 446.02,848.47 444.62,847.68 443.61,848.94 443.18,847.39 441.58,847.57 442.37,846.17 441.11,845.16 442.66,844.73 442.48,843.13 443.88,843.92 444.89,842.66 445.32,844.21 446.92,844.03 446.13,845.43" fill="#1c1709"/><polygon points="496.75,845.8 502.75,842.4 502.75,849.2" fill="#1c1709"/><polygon points="502.39,846.44 500.84,846.87 501.02,848.47 499.62,847.68 498.61,848.94 498.18,847.39 496.58,847.57 497.37,846.17 496.11,845.16 497.66,844.73 497.48,843.13 498.88,843.92 499.89,842.66 500.32,844.21 501.92,844.03 501.13,845.43" fill="#1c1709"/><polygon points="401.39,846.44 399.84,846.87 400.02,848.47 398.62,847.68 397.61,848.94 397.18,847.39 395.58,847.57 396.37,846.17 395.11,845.16 396.66,844.73 396.48,843.13 397.88,843.92 398.89,842.66 399.32,844.21 400.92,844.03 400.13,845.43" fill="#1c1709"/><polygon points="549.39,846.44 547.84,846.87 548.02,848.47 546.62,847.68 545.61,848.94 545.18,847.39 543.58,847.57 544.37,846.17 543.11,845.16 544.66,844.73 544.48,843.13 545.88,843.92 546.89,842.66 547.32,844.21 548.92,844.03 548.13,845.43" fill="#1c1709"/><g transform="translate(421.25 845.8) rotate(0)"><rect x="-8.7" y="-4.3" width="17.4" height="8.59" fill="#fff8e9" stroke="none" stroke-width="0"/><text x="0" y="3.1" font-size="8.6" text-anchor="middle" fill="#2e2a26" font-weight="normal" textLength="15" lengthAdjust="spacingAndGlyphs">2.00</text></g><g transform="translate(521.25 845.8) rotate(0)"><rect x="-8.7" y="-4.3" width="17.4" height="8.59" fill="#fff8e9" stroke="none" stroke-width="0"/><text x="0" y="3.1" font-size="8.6" text-anchor="middle" fill="#2e2a26" font-weight="normal" textLength="15" lengthAdjust="spacingAndGlyphs">2.00</text></g><text x="471.45" y="834.2" font-size="14.5" text-anchor="middle" fill="#141110" font-weight="bold" textLength="56.3" lengthAdjust="spacingAndGlyphs">TOWER-A</text><line x1="441.25" y1="837.6" x2="502.05" y2="837.6" stroke="#1c1709" stroke-width="2.2" stroke-linecap="butt"/><text x="421.75" y="740.8" font-size="7.2" text-anchor="middle" fill="#2e2a26" font-weight="normal" textLength="9" lengthAdjust="spacingAndGlyphs">DN</text><text x="521.25" y="740.8" font-size="7.2" text-anchor="middle" fill="#2e2a26" font-weight="normal" textLength="9" lengthAdjust="spacingAndGlyphs">UP</text><text x="421.75" y="920.5" font-size="7.2" text-anchor="middle" fill="#2e2a26" font-weight="normal" textLength="9" lengthAdjust="spacingAndGlyphs">UP</text><text x="521.25" y="920.5" font-size="7.2" text-anchor="middle" fill="#2e2a26" font-weight="normal" textLength="9" lengthAdjust="spacingAndGlyphs">DN</text><g transform="translate(541.75 776.5) rotate(-90)"><text x="0" y="2.52" font-size="7" text-anchor="middle" fill="#24201c" font-weight="normal" textLength="38" lengthAdjust="spacingAndGlyphs">FIRE STAIR</text></g><line x1="437.25" y1="968" x2="437.25" y2="1000" stroke="#1c1709" stroke-width="4" stroke-linecap="butt"/><line x1="435.75" y1="998.8" x2="444.75" y2="998.8" stroke="#1c1709" stroke-width="3" stroke-linecap="butt"/><line x1="467.25" y1="970" x2="467.25" y2="998" stroke="#1c1709" stroke-width="1.2" stroke-linecap="butt"/><line x1="444.75" y1="998.5" x2="467.25" y2="998.5" stroke="#999" stroke-width="0.7" stroke-linecap="butt"/><g transform="translate(453.75 980.5) rotate(0)"><text x="0" y="-5.4" font-size="6.6" text-anchor="middle" fill="#433f3a" font-weight="normal" textLength="10" lengthAdjust="spacingAndGlyphs">TOI.</text><text x="0" y="2.4" font-size="6.6" text-anchor="middle" fill="#433f3a" font-weight="normal" textLength="16" lengthAdjust="spacingAndGlyphs">1.00 X</text><text x="0" y="10.2" font-size="6.6" text-anchor="middle" fill="#433f3a" font-weight="normal" textLength="10.5" lengthAdjust="spacingAndGlyphs">1.00</text></g><line x1="504.25" y1="968" x2="504.25" y2="1000" stroke="#1c1709" stroke-width="4" stroke-linecap="butt"/><line x1="496.75" y1="998.8" x2="505.75" y2="998.8" stroke="#1c1709" stroke-width="3" stroke-linecap="butt"/><line x1="474.75" y1="998.5" x2="496.75" y2="998.5" stroke="#999" stroke-width="0.7" stroke-linecap="butt"/><g transform="translate(487.75 980.5) rotate(0)"><text x="0" y="-5.4" font-size="6.6" text-anchor="middle" fill="#433f3a" font-weight="normal" textLength="10" lengthAdjust="spacingAndGlyphs">TOI.</text><text x="0" y="2.4" font-size="6.6" text-anchor="middle" fill="#433f3a" font-weight="normal" textLength="16" lengthAdjust="spacingAndGlyphs">1.00 X</text><text x="0" y="10.2" font-size="6.6" text-anchor="middle" fill="#433f3a" font-weight="normal" textLength="10.5" lengthAdjust="spacingAndGlyphs">1.00</text></g><line x1="1347.75" y1="698.8" x2="1501.75" y2="698.8" stroke="#1c1709" stroke-width="2.6" stroke-linecap="butt"/><line x1="1500.75" y1="698.8" x2="1500.75" y2="966" stroke="#1c1709" stroke-width="2.6" stroke-linecap="butt"/><line x1="1347.75" y1="698.8" x2="1347.75" y2="966" stroke="#1c1709" stroke-width="2.6" stroke-linecap="butt"/><text x="1419.25" y="720.3" font-size="8" text-anchor="middle" fill="#2b2723" font-weight="normal" textLength="73" lengthAdjust="spacingAndGlyphs">1.83 MT. W. PASSAGE</text><text x="1419.25" y="944.3" font-size="8" text-anchor="middle" fill="#2b2723" font-weight="normal" textLength="73" lengthAdjust="spacingAndGlyphs">1.83 MT. W. PASSAGE</text><line x1="1349.75" y1="743" x2="1398.25" y2="743" stroke="#1c1709" stroke-width="2.1" stroke-linecap="butt"/><line x1="1448.75" y1="743" x2="1496.75" y2="743" stroke="#1c1709" stroke-width="2.1" stroke-linecap="butt"/><line x1="1349.75" y1="749.8" x2="1398.25" y2="749.8" stroke="#1c1709" stroke-width="2.1" stroke-linecap="butt"/><line x1="1448.75" y1="749.8" x2="1496.75" y2="749.8" stroke="#1c1709" stroke-width="2.1" stroke-linecap="butt"/><line x1="1349.75" y1="756.6" x2="1398.25" y2="756.6" stroke="#1c1709" stroke-width="2.1" stroke-linecap="butt"/><line x1="1448.75" y1="756.6" x2="1496.75" y2="756.6" stroke="#1c1709" stroke-width="2.1" stroke-linecap="butt"/><line x1="1349.75" y1="763.4" x2="1398.25" y2="763.4" stroke="#1c1709" stroke-width="2.1" stroke-linecap="butt"/><line x1="1448.75" y1="763.4" x2="1496.75" y2="763.4" stroke="#1c1709" stroke-width="2.1" stroke-linecap="butt"/><line x1="1349.75" y1="770.2" x2="1398.25" y2="770.2" stroke="#1c1709" stroke-width="2.1" stroke-linecap="butt"/><line x1="1448.75" y1="770.2" x2="1496.75" y2="770.2" stroke="#1c1709" stroke-width="2.1" stroke-linecap="butt"/><line x1="1349.75" y1="777" x2="1398.25" y2="777" stroke="#1c1709" stroke-width="2.1" stroke-linecap="butt"/><line x1="1448.75" y1="777" x2="1496.75" y2="777" stroke="#1c1709" stroke-width="2.1" stroke-linecap="butt"/><line x1="1349.75" y1="783.8" x2="1398.25" y2="783.8" stroke="#1c1709" stroke-width="2.1" stroke-linecap="butt"/><line x1="1448.75" y1="783.8" x2="1496.75" y2="783.8" stroke="#1c1709" stroke-width="2.1" stroke-linecap="butt"/><line x1="1349.75" y1="790.6" x2="1398.25" y2="790.6" stroke="#1c1709" stroke-width="2.1" stroke-linecap="butt"/><line x1="1448.75" y1="790.6" x2="1496.75" y2="790.6" stroke="#1c1709" stroke-width="2.1" stroke-linecap="butt"/><line x1="1349.75" y1="797.4" x2="1398.25" y2="797.4" stroke="#1c1709" stroke-width="2.1" stroke-linecap="butt"/><line x1="1448.75" y1="797.4" x2="1496.75" y2="797.4" stroke="#1c1709" stroke-width="2.1" stroke-linecap="butt"/><line x1="1349.75" y1="804.2" x2="1398.25" y2="804.2" stroke="#1c1709" stroke-width="2.1" stroke-linecap="butt"/><line x1="1448.75" y1="804.2" x2="1496.75" y2="804.2" stroke="#1c1709" stroke-width="2.1" stroke-linecap="butt"/><line x1="1372.25" y1="743" x2="1372.25" y2="805.2" stroke="#1c1709" stroke-width="2.2" stroke-linecap="butt"/><line x1="1472.75" y1="743" x2="1472.75" y2="805.2" stroke="#1c1709" stroke-width="2.2" stroke-linecap="butt"/><line x1="1349.75" y1="853.8" x2="1398.25" y2="853.8" stroke="#1c1709" stroke-width="2.1" stroke-linecap="butt"/><line x1="1448.75" y1="853.8" x2="1496.75" y2="853.8" stroke="#1c1709" stroke-width="2.1" stroke-linecap="butt"/><line x1="1349.75" y1="860.6" x2="1398.25" y2="860.6" stroke="#1c1709" stroke-width="2.1" stroke-linecap="butt"/><line x1="1448.75" y1="860.6" x2="1496.75" y2="860.6" stroke="#1c1709" stroke-width="2.1" stroke-linecap="butt"/><line x1="1349.75" y1="867.4" x2="1398.25" y2="867.4" stroke="#1c1709" stroke-width="2.1" stroke-linecap="butt"/><line x1="1448.75" y1="867.4" x2="1496.75" y2="867.4" stroke="#1c1709" stroke-width="2.1" stroke-linecap="butt"/><line x1="1349.75" y1="874.2" x2="1398.25" y2="874.2" stroke="#1c1709" stroke-width="2.1" stroke-linecap="butt"/><line x1="1448.75" y1="874.2" x2="1496.75" y2="874.2" stroke="#1c1709" stroke-width="2.1" stroke-linecap="butt"/><line x1="1349.75" y1="881" x2="1398.25" y2="881" stroke="#1c1709" stroke-width="2.1" stroke-linecap="butt"/><line x1="1448.75" y1="881" x2="1496.75" y2="881" stroke="#1c1709" stroke-width="2.1" stroke-linecap="butt"/><line x1="1349.75" y1="887.8" x2="1398.25" y2="887.8" stroke="#1c1709" stroke-width="2.1" stroke-linecap="butt"/><line x1="1448.75" y1="887.8" x2="1496.75" y2="887.8" stroke="#1c1709" stroke-width="2.1" stroke-linecap="butt"/><line x1="1349.75" y1="894.6" x2="1398.25" y2="894.6" stroke="#1c1709" stroke-width="2.1" stroke-linecap="butt"/><line x1="1448.75" y1="894.6" x2="1496.75" y2="894.6" stroke="#1c1709" stroke-width="2.1" stroke-linecap="butt"/><line x1="1349.75" y1="901.4" x2="1398.25" y2="901.4" stroke="#1c1709" stroke-width="2.1" stroke-linecap="butt"/><line x1="1448.75" y1="901.4" x2="1496.75" y2="901.4" stroke="#1c1709" stroke-width="2.1" stroke-linecap="butt"/><line x1="1349.75" y1="908.2" x2="1398.25" y2="908.2" stroke="#1c1709" stroke-width="2.1" stroke-linecap="butt"/><line x1="1448.75" y1="908.2" x2="1496.75" y2="908.2" stroke="#1c1709" stroke-width="2.1" stroke-linecap="butt"/><line x1="1349.75" y1="915" x2="1398.25" y2="915" stroke="#1c1709" stroke-width="2.1" stroke-linecap="butt"/><line x1="1448.75" y1="915" x2="1496.75" y2="915" stroke="#1c1709" stroke-width="2.1" stroke-linecap="butt"/><line x1="1372.25" y1="853.8" x2="1372.25" y2="916" stroke="#1c1709" stroke-width="2.2" stroke-linecap="butt"/><line x1="1472.75" y1="853.8" x2="1472.75" y2="916" stroke="#1c1709" stroke-width="2.2" stroke-linecap="butt"/><line x1="1497.25" y1="740" x2="1497.25" y2="919" stroke="#1c1709" stroke-width="1.8" stroke-linecap="butt"/><line x1="1500.25" y1="740" x2="1500.25" y2="919" stroke="#1c1709" stroke-width="2.8" stroke-linecap="butt"/><line x1="1349.25" y1="740" x2="1349.25" y2="919" stroke="#1c1709" stroke-width="3.5" stroke-linecap="butt"/><line x1="1398.45" y1="739.8" x2="1398.45" y2="805" stroke="#1c1709" stroke-width="2.4" stroke-linecap="butt"/><line x1="1447.8" y1="739.8" x2="1447.8" y2="805" stroke="#1c1709" stroke-width="2.4" stroke-linecap="butt"/><line x1="1401.75" y1="742.8" x2="1401.75" y2="802" stroke="#1c1709" stroke-width="2" stroke-linecap="butt"/><line x1="1444.5" y1="742.8" x2="1444.5" y2="802" stroke="#1c1709" stroke-width="2" stroke-linecap="butt"/><polyline points="1397.25,740.8 1411.25,740.8 1411.25,745.3" fill="none" stroke="#1c1709" stroke-width="2.2" stroke-linejoin="miter"/><polyline points="1449,740.8 1435.25,740.8 1435.25,745.3" fill="none" stroke="#1c1709" stroke-width="2.2" stroke-linejoin="miter"/><polyline points="1401.75,744.3 1411.25,744.3" fill="none" stroke="#1c1709" stroke-width="1.6" stroke-linejoin="miter"/><polyline points="1444.5,744.3 1435.25,744.3" fill="none" stroke="#1c1709" stroke-width="1.6" stroke-linejoin="miter"/><line x1="1397.25" y1="804" x2="1449" y2="804" stroke="#1c1709" stroke-width="2.4" stroke-linecap="butt"/><line x1="1401.75" y1="800.5" x2="1444.5" y2="800.5" stroke="#1c1709" stroke-width="2" stroke-linecap="butt"/><line x1="1411.25" y1="743.8" x2="1435.25" y2="743.8" stroke="#999" stroke-width="0.8" stroke-linecap="butt"/><line x1="1398.45" y1="855" x2="1398.45" y2="918.3" stroke="#1c1709" stroke-width="2.4" stroke-linecap="butt"/><line x1="1447.8" y1="855" x2="1447.8" y2="918.3" stroke="#1c1709" stroke-width="2.4" stroke-linecap="butt"/><line x1="1401.75" y1="858" x2="1401.75" y2="915.3" stroke="#1c1709" stroke-width="2" stroke-linecap="butt"/><line x1="1444.5" y1="858" x2="1444.5" y2="915.3" stroke="#1c1709" stroke-width="2" stroke-linecap="butt"/><polyline points="1397.25,917.3 1411.25,917.3 1411.25,912.8" fill="none" stroke="#1c1709" stroke-width="2.2" stroke-linejoin="miter"/><polyline points="1449,917.3 1435.25,917.3 1435.25,912.8" fill="none" stroke="#1c1709" stroke-width="2.2" stroke-linejoin="miter"/><polyline points="1401.75,913.8 1411.25,913.8" fill="none" stroke="#1c1709" stroke-width="1.6" stroke-linejoin="miter"/><polyline points="1444.5,913.8 1435.25,913.8" fill="none" stroke="#1c1709" stroke-width="1.6" stroke-linejoin="miter"/><line x1="1397.25" y1="856" x2="1449" y2="856" stroke="#1c1709" stroke-width="2.4" stroke-linecap="butt"/><line x1="1401.75" y1="859.5" x2="1444.5" y2="859.5" stroke="#1c1709" stroke-width="2" stroke-linecap="butt"/><line x1="1411.25" y1="914.3" x2="1435.25" y2="914.3" stroke="#999" stroke-width="0.8" stroke-linecap="butt"/><text x="1422.25" y="771" font-size="8.2" text-anchor="middle" fill="#2b2723" font-weight="normal" textLength="14.5" lengthAdjust="spacingAndGlyphs">LIFT</text><text x="1422.25" y="781.3" font-size="8.2" text-anchor="middle" fill="#2b2723" font-weight="normal" textLength="35" lengthAdjust="spacingAndGlyphs">1.60 X 2.10</text><text x="1422.25" y="881.7" font-size="8.2" text-anchor="middle" fill="#2b2723" font-weight="normal" textLength="14.5" lengthAdjust="spacingAndGlyphs">LIFT</text><text x="1422.25" y="892.5" font-size="8.2" text-anchor="middle" fill="#2b2723" font-weight="normal" textLength="35" lengthAdjust="spacingAndGlyphs">1.60 X 2.10</text><line x1="1349.75" y1="812.9" x2="1398.25" y2="812.9" stroke="#1c1709" stroke-width="2" stroke-linecap="butt"/><line x1="1448.25" y1="812.9" x2="1497.75" y2="812.9" stroke="#1c1709" stroke-width="2" stroke-linecap="butt"/><polygon points="1398.25,812.9 1392.25,809.5 1392.25,816.3" fill="#1c1709"/><polygon points="1398.89,813.54 1397.34,813.97 1397.52,815.57 1396.12,814.78 1395.11,816.04 1394.68,814.49 1393.08,814.67 1393.87,813.27 1392.61,812.26 1394.16,811.83 1393.98,810.23 1395.38,811.02 1396.39,809.76 1396.82,811.31 1398.42,811.13 1397.63,812.53" fill="#1c1709"/><polygon points="1448.25,812.9 1454.25,809.5 1454.25,816.3" fill="#1c1709"/><polygon points="1453.89,813.54 1452.34,813.97 1452.52,815.57 1451.12,814.78 1450.11,816.04 1449.68,814.49 1448.08,814.67 1448.87,813.27 1447.61,812.26 1449.16,811.83 1448.98,810.23 1450.38,811.02 1451.39,809.76 1451.82,811.31 1453.42,811.13 1452.63,812.53" fill="#1c1709"/><polygon points="1352.89,813.54 1351.34,813.97 1351.52,815.57 1350.12,814.78 1349.11,816.04 1348.68,814.49 1347.08,814.67 1347.87,813.27 1346.61,812.26 1348.16,811.83 1347.98,810.23 1349.38,811.02 1350.39,809.76 1350.82,811.31 1352.42,811.13 1351.63,812.53" fill="#1c1709"/><polygon points="1500.89,813.54 1499.34,813.97 1499.52,815.57 1498.12,814.78 1497.11,816.04 1496.68,814.49 1495.08,814.67 1495.87,813.27 1494.61,812.26 1496.16,811.83 1495.98,810.23 1497.38,811.02 1498.39,809.76 1498.82,811.31 1500.42,811.13 1499.63,812.53" fill="#1c1709"/><g transform="translate(1372.75 812.9) rotate(0)"><rect x="-8.7" y="-4.3" width="17.4" height="8.59" fill="#fff8e9" stroke="none" stroke-width="0"/><text x="0" y="3.1" font-size="8.6" text-anchor="middle" fill="#2e2a26" font-weight="normal" textLength="15" lengthAdjust="spacingAndGlyphs">2.00</text></g><g transform="translate(1472.75 812.9) rotate(0)"><rect x="-8.7" y="-4.3" width="17.4" height="8.59" fill="#fff8e9" stroke="none" stroke-width="0"/><text x="0" y="3.1" font-size="8.6" text-anchor="middle" fill="#2e2a26" font-weight="normal" textLength="15" lengthAdjust="spacingAndGlyphs">2.00</text></g><line x1="1349.75" y1="845.8" x2="1398.25" y2="845.8" stroke="#1c1709" stroke-width="2" stroke-linecap="butt"/><line x1="1448.25" y1="845.8" x2="1497.75" y2="845.8" stroke="#1c1709" stroke-width="2" stroke-linecap="butt"/><polygon points="1398.25,845.8 1392.25,842.4 1392.25,849.2" fill="#1c1709"/><polygon points="1398.89,846.44 1397.34,846.87 1397.52,848.47 1396.12,847.68 1395.11,848.94 1394.68,847.39 1393.08,847.57 1393.87,846.17 1392.61,845.16 1394.16,844.73 1393.98,843.13 1395.38,843.92 1396.39,842.66 1396.82,844.21 1398.42,844.03 1397.63,845.43" fill="#1c1709"/><polygon points="1448.25,845.8 1454.25,842.4 1454.25,849.2" fill="#1c1709"/><polygon points="1453.89,846.44 1452.34,846.87 1452.52,848.47 1451.12,847.68 1450.11,848.94 1449.68,847.39 1448.08,847.57 1448.87,846.17 1447.61,845.16 1449.16,844.73 1448.98,843.13 1450.38,843.92 1451.39,842.66 1451.82,844.21 1453.42,844.03 1452.63,845.43" fill="#1c1709"/><polygon points="1352.89,846.44 1351.34,846.87 1351.52,848.47 1350.12,847.68 1349.11,848.94 1348.68,847.39 1347.08,847.57 1347.87,846.17 1346.61,845.16 1348.16,844.73 1347.98,843.13 1349.38,843.92 1350.39,842.66 1350.82,844.21 1352.42,844.03 1351.63,845.43" fill="#1c1709"/><polygon points="1500.89,846.44 1499.34,846.87 1499.52,848.47 1498.12,847.68 1497.11,848.94 1496.68,847.39 1495.08,847.57 1495.87,846.17 1494.61,845.16 1496.16,844.73 1495.98,843.13 1497.38,843.92 1498.39,842.66 1498.82,844.21 1500.42,844.03 1499.63,845.43" fill="#1c1709"/><g transform="translate(1372.75 845.8) rotate(0)"><rect x="-8.7" y="-4.3" width="17.4" height="8.59" fill="#fff8e9" stroke="none" stroke-width="0"/><text x="0" y="3.1" font-size="8.6" text-anchor="middle" fill="#2e2a26" font-weight="normal" textLength="15" lengthAdjust="spacingAndGlyphs">2.00</text></g><g transform="translate(1472.75 845.8) rotate(0)"><rect x="-8.7" y="-4.3" width="17.4" height="8.59" fill="#fff8e9" stroke="none" stroke-width="0"/><text x="0" y="3.1" font-size="8.6" text-anchor="middle" fill="#2e2a26" font-weight="normal" textLength="15" lengthAdjust="spacingAndGlyphs">2.00</text></g><text x="1422.95" y="834.2" font-size="14.5" text-anchor="middle" fill="#141110" font-weight="bold" textLength="56.3" lengthAdjust="spacingAndGlyphs">TOWER-B</text><line x1="1392.75" y1="837.6" x2="1453.55" y2="837.6" stroke="#1c1709" stroke-width="2.2" stroke-linecap="butt"/><text x="1373.25" y="740.8" font-size="7.2" text-anchor="middle" fill="#2e2a26" font-weight="normal" textLength="9" lengthAdjust="spacingAndGlyphs">DN</text><text x="1472.75" y="740.8" font-size="7.2" text-anchor="middle" fill="#2e2a26" font-weight="normal" textLength="9" lengthAdjust="spacingAndGlyphs">UP</text><text x="1373.25" y="920.5" font-size="7.2" text-anchor="middle" fill="#2e2a26" font-weight="normal" textLength="9" lengthAdjust="spacingAndGlyphs">UP</text><text x="1472.75" y="920.5" font-size="7.2" text-anchor="middle" fill="#2e2a26" font-weight="normal" textLength="9" lengthAdjust="spacingAndGlyphs">DN</text><g transform="translate(1357.25 776.5) rotate(-90)"><text x="0" y="2.52" font-size="7" text-anchor="middle" fill="#24201c" font-weight="normal" textLength="38" lengthAdjust="spacingAndGlyphs">FIRE STAIR</text></g><line x1="1388.75" y1="968" x2="1388.75" y2="1000" stroke="#1c1709" stroke-width="4" stroke-linecap="butt"/><line x1="1387.25" y1="998.8" x2="1396.25" y2="998.8" stroke="#1c1709" stroke-width="3" stroke-linecap="butt"/><line x1="1418.75" y1="970" x2="1418.75" y2="998" stroke="#1c1709" stroke-width="1.2" stroke-linecap="butt"/><line x1="1396.25" y1="998.5" x2="1418.75" y2="998.5" stroke="#999" stroke-width="0.7" stroke-linecap="butt"/><g transform="translate(1405.25 980.5) rotate(0)"><text x="0" y="-5.4" font-size="6.6" text-anchor="middle" fill="#433f3a" font-weight="normal" textLength="10" lengthAdjust="spacingAndGlyphs">TOI.</text><text x="0" y="2.4" font-size="6.6" text-anchor="middle" fill="#433f3a" font-weight="normal" textLength="16" lengthAdjust="spacingAndGlyphs">1.00 X</text><text x="0" y="10.2" font-size="6.6" text-anchor="middle" fill="#433f3a" font-weight="normal" textLength="10.5" lengthAdjust="spacingAndGlyphs">1.00</text></g><line x1="1455.75" y1="968" x2="1455.75" y2="1000" stroke="#1c1709" stroke-width="4" stroke-linecap="butt"/><line x1="1448.25" y1="998.8" x2="1457.25" y2="998.8" stroke="#1c1709" stroke-width="3" stroke-linecap="butt"/><line x1="1426.25" y1="998.5" x2="1448.25" y2="998.5" stroke="#999" stroke-width="0.7" stroke-linecap="butt"/><g transform="translate(1439.25 980.5) rotate(0)"><text x="0" y="-5.4" font-size="6.6" text-anchor="middle" fill="#433f3a" font-weight="normal" textLength="10" lengthAdjust="spacingAndGlyphs">TOI.</text><text x="0" y="2.4" font-size="6.6" text-anchor="middle" fill="#433f3a" font-weight="normal" textLength="16" lengthAdjust="spacingAndGlyphs">1.00 X</text><text x="0" y="10.2" font-size="6.6" text-anchor="middle" fill="#433f3a" font-weight="normal" textLength="10.5" lengthAdjust="spacingAndGlyphs">1.00</text></g><line x1="549.5" y1="800.5" x2="590.5" y2="800.5" stroke="#1c1709" stroke-width="2.6" stroke-linecap="butt"/><line x1="590" y1="800.5" x2="590" y2="966" stroke="#1c1709" stroke-width="2.6" stroke-linecap="butt"/><line x1="551" y1="808" x2="589" y2="808" stroke="#1c1709" stroke-width="2.2" stroke-linecap="butt"/><line x1="551" y1="814.5" x2="589" y2="814.5" stroke="#1c1709" stroke-width="2.2" stroke-linecap="butt"/><line x1="551" y1="821" x2="589" y2="821" stroke="#1c1709" stroke-width="2.2" stroke-linecap="butt"/><line x1="551" y1="827.5" x2="589" y2="827.5" stroke="#1c1709" stroke-width="2.2" stroke-linecap="butt"/><line x1="551" y1="834" x2="589" y2="834" stroke="#1c1709" stroke-width="2.2" stroke-linecap="butt"/><line x1="551" y1="840.5" x2="589" y2="840.5" stroke="#1c1709" stroke-width="2.2" stroke-linecap="butt"/><line x1="551" y1="847" x2="589" y2="847" stroke="#1c1709" stroke-width="2.2" stroke-linecap="butt"/><line x1="551" y1="853.5" x2="589" y2="853.5" stroke="#1c1709" stroke-width="2.2" stroke-linecap="butt"/><line x1="551" y1="860" x2="589" y2="860" stroke="#1c1709" stroke-width="2.2" stroke-linecap="butt"/><line x1="551" y1="866.5" x2="589" y2="866.5" stroke="#1c1709" stroke-width="2.2" stroke-linecap="butt"/><line x1="551" y1="873" x2="589" y2="873" stroke="#1c1709" stroke-width="2.2" stroke-linecap="butt"/><line x1="551" y1="879.5" x2="589" y2="879.5" stroke="#1c1709" stroke-width="2.2" stroke-linecap="butt"/><line x1="551" y1="886" x2="589" y2="886" stroke="#1c1709" stroke-width="2.2" stroke-linecap="butt"/><line x1="551" y1="892.5" x2="589" y2="892.5" stroke="#1c1709" stroke-width="2.2" stroke-linecap="butt"/><line x1="551" y1="899" x2="589" y2="899" stroke="#1c1709" stroke-width="2.2" stroke-linecap="butt"/><line x1="551" y1="905.5" x2="589" y2="905.5" stroke="#1c1709" stroke-width="2.2" stroke-linecap="butt"/><line x1="551" y1="912" x2="589" y2="912" stroke="#1c1709" stroke-width="2.2" stroke-linecap="butt"/><line x1="570" y1="800" x2="570" y2="912" stroke="#1c1709" stroke-width="2" stroke-linecap="butt"/><text x="570" y="798.5" font-size="7" text-anchor="middle" fill="#2e2a26" font-weight="normal">DN</text><g transform="translate(594 855) rotate(-90)"><text x="0" y="2.74" font-size="7.6" text-anchor="middle" fill="#2e2a26" font-weight="normal" textLength="83" lengthAdjust="spacingAndGlyphs">BASEMENT TO GROUND</text></g><text x="656.5" y="834.5" font-size="8" text-anchor="middle" fill="#2b2723" font-weight="normal" textLength="33.75" lengthAdjust="spacingAndGlyphs">RESI.COV.</text><text x="656.5" y="844.8" font-size="8" text-anchor="middle" fill="#2b2723" font-weight="normal" textLength="37.5" lengthAdjust="spacingAndGlyphs">PARKING-01</text><text x="656.5" y="855.1" font-size="8" text-anchor="middle" fill="#2b2723" font-weight="normal" textLength="45" lengthAdjust="spacingAndGlyphs">181.46 SQ.MT</text><text x="1404" y="647.5" font-size="8" text-anchor="middle" fill="#2b2723" font-weight="normal" textLength="33.75" lengthAdjust="spacingAndGlyphs">RESI.COV.</text><text x="1404" y="657.8" font-size="8" text-anchor="middle" fill="#2b2723" font-weight="normal" textLength="33.75" lengthAdjust="spacingAndGlyphs">PARKING-2</text><text x="1404" y="668.1" font-size="8" text-anchor="middle" fill="#2b2723" font-weight="normal" textLength="45" lengthAdjust="spacingAndGlyphs">220.18 SQ.MT</text><circle cx="84.3" cy="911" r="5.6" fill="none" stroke="#1c1709" stroke-width="1.8"/><text x="84.3" y="914" font-size="7.5" text-anchor="middle" fill="#2e2a26" font-weight="bold">A</text><line x1="84.3" y1="916.5" x2="84.3" y2="922.3" stroke="#1c1709" stroke-width="1.8" stroke-linecap="butt"/><circle cx="1807" cy="910.8" r="5.6" fill="none" stroke="#1c1709" stroke-width="1.8"/><text x="1807" y="913.8" font-size="7.5" text-anchor="middle" fill="#2e2a26" font-weight="bold">A</text><line x1="1807" y1="916.4" x2="1807" y2="922.3" stroke="#1c1709" stroke-width="1.8" stroke-linecap="butt"/><line x1="84.3" y1="922.2" x2="1807" y2="922.2" stroke="#1c1709" stroke-width="2" stroke-dasharray="16.5 1.8 4 2.2" stroke-linecap="butt"/><polyline points="335,969.7 623.8,970.5 812.5,1159.5" fill="none" stroke="#1c1709" stroke-width="2" stroke-linejoin="miter"/><polyline points="1082.5,1159.5 1271.2,970.5 1576,970.5 1778.5,1173" fill="none" stroke="#1c1709" stroke-width="2" stroke-linejoin="miter"/><polyline points="396,966.5 625,967.5 815.6,1158" fill="none" stroke="#ad1420" stroke-width="3" stroke-linejoin="miter"/><polyline points="1499,966.5 1270,967.5 1079.4,1158" fill="none" stroke="#ad1420" stroke-width="3" stroke-linejoin="miter"/><polyline points="815.6,1160 815.6,1131.7 853.4,1131.7 853.4,1162.3" fill="none" stroke="#ad1420" stroke-width="3" stroke-linejoin="miter"/><line x1="815.6" y1="1164" x2="853.4" y2="1164" stroke="#1c1709" stroke-width="3.2" stroke-linecap="butt"/><line x1="818.1" y1="1134" x2="818.1" y2="1161" stroke="#1c1709" stroke-width="1.6" stroke-linecap="butt"/><line x1="850.9" y1="1134" x2="850.9" y2="1161" stroke="#1c1709" stroke-width="1.6" stroke-linecap="butt"/><polyline points="1079.4,1160 1079.4,1131.7 1041.6,1131.7 1041.6,1162.3" fill="none" stroke="#ad1420" stroke-width="3" stroke-linejoin="miter"/><line x1="1079.4" y1="1164" x2="1041.6" y2="1164" stroke="#1c1709" stroke-width="3.2" stroke-linecap="butt"/><line x1="1076.9" y1="1134" x2="1076.9" y2="1161" stroke="#1c1709" stroke-width="1.6" stroke-linecap="butt"/><line x1="1044.1" y1="1134" x2="1044.1" y2="1161" stroke="#1c1709" stroke-width="1.6" stroke-linecap="butt"/><line x1="853.4" y1="1162.3" x2="1041.6" y2="1162.3" stroke="#ad1420" stroke-width="3" stroke-linecap="butt"/><text x="835" y="1145" font-size="6" text-anchor="middle" fill="#2e2a26" font-weight="normal" textLength="28" lengthAdjust="spacingAndGlyphs">COMM.TOI.</text><text x="835" y="1153.5" font-size="6" text-anchor="middle" fill="#2e2a26" font-weight="normal" textLength="28" lengthAdjust="spacingAndGlyphs">1.20 X 1.00</text><text x="1060" y="1145" font-size="6" text-anchor="middle" fill="#2e2a26" font-weight="normal" textLength="28" lengthAdjust="spacingAndGlyphs">COMM.TOI.</text><text x="1060" y="1153.5" font-size="6" text-anchor="middle" fill="#2e2a26" font-weight="normal" textLength="28" lengthAdjust="spacingAndGlyphs">1.20 X 1.00</text><polygon points="826.72,1146.75 824.89,1147.27 825.1,1149.17 823.44,1148.24 822.25,1149.72 821.73,1147.89 819.83,1148.1 820.76,1146.44 819.28,1145.25 821.11,1144.73 820.9,1142.83 822.56,1143.76 823.75,1142.28 824.27,1144.11 826.17,1143.9 825.24,1145.56" fill="#1c1709"/><polygon points="1075.72,1146.75 1073.89,1147.27 1074.1,1149.17 1072.44,1148.24 1071.25,1149.72 1070.73,1147.89 1068.83,1148.1 1069.76,1146.44 1068.28,1145.25 1070.11,1144.73 1069.9,1142.83 1071.56,1143.76 1072.75,1142.28 1073.27,1144.11 1075.17,1143.9 1074.24,1145.56" fill="#1c1709"/><line x1="685" y1="1006.3" x2="816" y2="1135" stroke="#1c1709" stroke-width="2.2" stroke-linecap="butt"/><g transform="translate(750.5 1070.65) rotate(45)"><rect x="-8.7" y="-4.3" width="17.4" height="8.59" fill="#fff8e9" stroke="none" stroke-width="0"/><text x="0" y="3.1" font-size="8.6" text-anchor="middle" fill="#2e2a26" font-weight="normal" textLength="15" lengthAdjust="spacingAndGlyphs">7.42</text></g><line x1="1210" y1="1006.3" x2="1079" y2="1135" stroke="#1c1709" stroke-width="2.2" stroke-linecap="butt"/><g transform="translate(1144.5 1070.65) rotate(-45)"><rect x="-8.7" y="-4.3" width="17.4" height="8.59" fill="#fff8e9" stroke="none" stroke-width="0"/><text x="0" y="3.1" font-size="8.6" text-anchor="middle" fill="#2e2a26" font-weight="normal" textLength="15" lengthAdjust="spacingAndGlyphs">7.42</text></g><line x1="815.5" y1="1163" x2="815.5" y2="1316" stroke="#1c1709" stroke-width="2.2" stroke-linecap="butt"/><line x1="819.1" y1="1163" x2="819.1" y2="1316" stroke="#1c1709" stroke-width="2.2" stroke-linecap="butt"/><line x1="904.2" y1="1163" x2="904.2" y2="1316" stroke="#1c1709" stroke-width="2.2" stroke-linecap="butt"/><line x1="907.8" y1="1163" x2="907.8" y2="1316" stroke="#1c1709" stroke-width="2.2" stroke-linecap="butt"/><line x1="987.2" y1="1163" x2="987.2" y2="1316" stroke="#1c1709" stroke-width="2.2" stroke-linecap="butt"/><line x1="990.8" y1="1163" x2="990.8" y2="1316" stroke="#1c1709" stroke-width="2.2" stroke-linecap="butt"/><line x1="1076.2" y1="1163" x2="1076.2" y2="1316" stroke="#1c1709" stroke-width="2.2" stroke-linecap="butt"/><line x1="1079.8" y1="1163" x2="1079.8" y2="1316" stroke="#1c1709" stroke-width="2.2" stroke-linecap="butt"/><g transform="translate(889 1175.5) rotate(0)"><text x="0" y="-5.4" font-size="6.6" text-anchor="middle" fill="#433f3a" font-weight="normal" textLength="10" lengthAdjust="spacingAndGlyphs">TOI.</text><text x="0" y="2.4" font-size="6.6" text-anchor="middle" fill="#433f3a" font-weight="normal" textLength="16" lengthAdjust="spacingAndGlyphs">1.00 X</text><text x="0" y="10.2" font-size="6.6" text-anchor="middle" fill="#433f3a" font-weight="normal" textLength="10.5" lengthAdjust="spacingAndGlyphs">1.00</text></g><g transform="translate(923 1175.5) rotate(0)"><text x="0" y="-5.4" font-size="6.6" text-anchor="middle" fill="#433f3a" font-weight="normal" textLength="10" lengthAdjust="spacingAndGlyphs">TOI.</text><text x="0" y="2.4" font-size="6.6" text-anchor="middle" fill="#433f3a" font-weight="normal" textLength="16" lengthAdjust="spacingAndGlyphs">1.00 X</text><text x="0" y="10.2" font-size="6.6" text-anchor="middle" fill="#433f3a" font-weight="normal" textLength="10.5" lengthAdjust="spacingAndGlyphs">1.00</text></g><g transform="translate(1006 1175.5) rotate(0)"><text x="0" y="-5.4" font-size="6.6" text-anchor="middle" fill="#433f3a" font-weight="normal" textLength="10" lengthAdjust="spacingAndGlyphs">TOI.</text><text x="0" y="2.4" font-size="6.6" text-anchor="middle" fill="#433f3a" font-weight="normal" textLength="16" lengthAdjust="spacingAndGlyphs">1.00 X</text><text x="0" y="10.2" font-size="6.6" text-anchor="middle" fill="#433f3a" font-weight="normal" textLength="10.5" lengthAdjust="spacingAndGlyphs">1.00</text></g><line x1="876" y1="1163" x2="876" y2="1195" stroke="#1c1709" stroke-width="3.5" stroke-linecap="butt"/><line x1="875" y1="1193.5" x2="884" y2="1193.5" stroke="#1c1709" stroke-width="3" stroke-linecap="butt"/><line x1="902" y1="1163" x2="902" y2="1192" stroke="#1c1709" stroke-width="0.8" stroke-linecap="butt"/><line x1="935" y1="1163" x2="935" y2="1195" stroke="#1c1709" stroke-width="3.5" stroke-linecap="butt"/><line x1="927" y1="1193.5" x2="936.5" y2="1193.5" stroke="#1c1709" stroke-width="3" stroke-linecap="butt"/><line x1="1020" y1="1163" x2="1020" y2="1195" stroke="#1c1709" stroke-width="3.5" stroke-linecap="butt"/><line x1="1011" y1="1193.5" x2="1021.5" y2="1193.5" stroke="#1c1709" stroke-width="3" stroke-linecap="butt"/><line x1="991" y1="1192" x2="1011" y2="1192" stroke="#999" stroke-width="0.6" stroke-linecap="butt"/><line x1="878" y1="1192" x2="903" y2="1192" stroke="#999" stroke-width="0.6" stroke-linecap="butt"/><line x1="908" y1="1192" x2="927" y2="1192" stroke="#999" stroke-width="0.6" stroke-linecap="butt"/><line x1="684" y1="1316" x2="1211" y2="1316" stroke="#ad1420" stroke-width="3" stroke-linecap="butt"/><line x1="684.5" y1="1319" x2="684.5" y2="1340" stroke="#1c1709" stroke-width="2" stroke-linecap="butt"/><polygon points="688.71,1340.85 686.64,1341.44 686.88,1343.58 684.99,1342.53 683.65,1344.21 683.06,1342.14 680.92,1342.38 681.97,1340.49 680.29,1339.15 682.36,1338.56 682.12,1336.42 684.01,1337.47 685.35,1335.79 685.94,1337.86 688.08,1337.62 687.03,1339.51" fill="#1c1709"/><line x1="1211" y1="1319" x2="1211" y2="1340" stroke="#1c1709" stroke-width="2" stroke-linecap="butt"/><polygon points="1215.21,1340.85 1213.14,1341.44 1213.38,1343.58 1211.49,1342.53 1210.15,1344.21 1209.56,1342.14 1207.42,1342.38 1208.47,1340.49 1206.79,1339.15 1208.86,1338.56 1208.62,1336.42 1210.51,1337.47 1211.85,1335.79 1212.44,1337.86 1214.58,1337.62 1213.53,1339.51" fill="#1c1709"/><line x1="684.5" y1="1340" x2="1211" y2="1340" stroke="#1c1709" stroke-width="2.2" stroke-linecap="butt"/><g transform="translate(947.5 1340) rotate(0)"><rect x="-10.57" y="-4.3" width="21.15" height="8.59" fill="#fff8e9" stroke="none" stroke-width="0"/><text x="0" y="3.1" font-size="8.6" text-anchor="middle" fill="#2e2a26" font-weight="normal" textLength="18.75" lengthAdjust="spacingAndGlyphs">19.66</text></g><g transform="translate(862 1247) rotate(0)"><text x="0" y="0" font-size="8.2" text-anchor="middle" fill="#2b2723" font-weight="normal" textLength="29.4" lengthAdjust="spacingAndGlyphs">SHOP-16</text><text x="0" y="10.3" font-size="8.2" text-anchor="middle" fill="#2b2723" font-weight="normal" textLength="35.75" lengthAdjust="spacingAndGlyphs">3.20 X 5.70</text></g><g transform="translate(948.5 1247) rotate(0)"><text x="0" y="0" font-size="8.2" text-anchor="middle" fill="#2b2723" font-weight="normal" textLength="29.4" lengthAdjust="spacingAndGlyphs">SHOP-17</text><text x="0" y="10.3" font-size="8.2" text-anchor="middle" fill="#2b2723" font-weight="normal" textLength="35.75" lengthAdjust="spacingAndGlyphs">3.00 X 5.70</text></g><g transform="translate(1034.5 1247) rotate(0)"><text x="0" y="0" font-size="8.2" text-anchor="middle" fill="#2b2723" font-weight="normal" textLength="29.4" lengthAdjust="spacingAndGlyphs">SHOP-18</text><text x="0" y="10.3" font-size="8.2" text-anchor="middle" fill="#2b2723" font-weight="normal" textLength="35.75" lengthAdjust="spacingAndGlyphs">3.20 X 5.70</text></g><line x1="471.25" y1="1105" x2="259" y2="1316" stroke="#ad1420" stroke-width="3" stroke-linecap="butt"/><polyline points="471.25,1128.33 278.8,1319.54 268.19,1308.93" fill="none" stroke="#1c1709" stroke-width="2" stroke-dasharray="8 4" stroke-linejoin="miter"/><line x1="491.76" y1="1125.51" x2="279.51" y2="1336.51" stroke="#1c1709" stroke-width="2.2" stroke-linecap="butt"/><line x1="279.51" y1="1336.51" x2="259" y2="1316" stroke="#1c1709" stroke-width="2" stroke-linecap="butt"/><polygon points="283.72,1337.36 281.65,1337.95 281.88,1340.09 280,1339.04 278.65,1340.72 278.06,1338.65 275.92,1338.88 276.97,1337 275.29,1335.65 277.37,1335.06 277.13,1332.92 279.01,1333.97 280.36,1332.29 280.95,1334.37 283.09,1334.13 282.04,1336.01" fill="#1c1709"/><g transform="translate(416.66 1176.28) rotate(-45)"><text x="0" y="2.45" font-size="6.8" text-anchor="middle" fill="#24201c" font-weight="normal" textLength="84" lengthAdjust="spacingAndGlyphs">0.60 MT. W. ARCH PROJECTION</text></g><line x1="362.36" y1="1213.89" x2="374.02" y2="1225.56" stroke="#1c1709" stroke-width="1.5" stroke-linecap="butt"/><polygon points="365.88,1214.61 364.15,1215.1 364.34,1216.9 362.77,1216.01 361.64,1217.42 361.15,1215.69 359.35,1215.88 360.24,1214.31 358.83,1213.18 360.56,1212.69 360.37,1210.89 361.94,1211.77 363.07,1210.37 363.56,1212.1 365.36,1211.91 364.48,1213.48" fill="#1c1709"/><polygon points="377.55,1226.28 375.81,1226.77 376.01,1228.56 374.44,1227.68 373.31,1229.09 372.82,1227.35 371.02,1227.55 371.9,1225.98 370.49,1224.85 372.23,1224.36 372.03,1222.56 373.61,1223.44 374.74,1222.03 375.23,1223.77 377.02,1223.57 376.14,1225.15" fill="#1c1709"/><g transform="translate(371.55 1216.02) rotate(-135)"><text x="0" y="2.34" font-size="6.5" text-anchor="middle" fill="#2e2a26" font-weight="normal" textLength="8" lengthAdjust="spacingAndGlyphs">.68</text></g><g transform="translate(387.1 1230.16) rotate(-45)"><rect x="-8.7" y="-4.3" width="17.4" height="8.59" fill="#fff8e9" stroke="none" stroke-width="0"/><text x="0" y="3.1" font-size="8.6" text-anchor="middle" fill="#2e2a26" font-weight="normal" textLength="15" lengthAdjust="spacingAndGlyphs">1.23</text></g><line x1="471.25" y1="1105" x2="684.5" y2="1316" stroke="#ad1420" stroke-width="3" stroke-linecap="butt"/><polyline points="471.25,1128.33 664.7,1319.54 675.31,1308.93" fill="none" stroke="#1c1709" stroke-width="2" stroke-dasharray="8 4" stroke-linejoin="miter"/><line x1="450.74" y1="1125.51" x2="663.99" y2="1336.51" stroke="#1c1709" stroke-width="2.2" stroke-linecap="butt"/><line x1="663.99" y1="1336.51" x2="684.5" y2="1316" stroke="#1c1709" stroke-width="2" stroke-linecap="butt"/><polygon points="668.21,1337.36 666.13,1337.95 666.37,1340.09 664.49,1339.04 663.14,1340.72 662.55,1338.65 660.41,1338.88 661.46,1337 659.78,1335.65 661.85,1335.06 661.62,1332.92 663.5,1333.97 664.85,1332.29 665.44,1334.37 667.58,1334.13 666.53,1336.01" fill="#1c1709"/><g transform="translate(525.84 1176.28) rotate(45)"><text x="0" y="2.45" font-size="6.8" text-anchor="middle" fill="#24201c" font-weight="normal" textLength="84" lengthAdjust="spacingAndGlyphs">0.60 MT. W. ARCH PROJECTION</text></g><line x1="580.14" y1="1213.89" x2="568.48" y2="1225.56" stroke="#1c1709" stroke-width="1.5" stroke-linecap="butt"/><polygon points="583.67,1214.61 581.94,1215.1 582.13,1216.9 580.56,1216.01 579.43,1217.42 578.94,1215.69 577.14,1215.88 578.02,1214.31 576.62,1213.18 578.35,1212.69 578.16,1210.89 579.73,1211.77 580.86,1210.37 581.35,1212.1 583.15,1211.91 582.26,1213.48" fill="#1c1709"/><polygon points="572.01,1226.28 570.27,1226.77 570.47,1228.56 568.89,1227.68 567.76,1229.09 567.27,1227.35 565.48,1227.55 566.36,1225.98 564.95,1224.85 566.69,1224.36 566.49,1222.56 568.06,1223.44 569.19,1222.03 569.68,1223.77 571.48,1223.57 570.6,1225.15" fill="#1c1709"/><g transform="translate(578.02 1223.09) rotate(135)"><text x="0" y="2.34" font-size="6.5" text-anchor="middle" fill="#2e2a26" font-weight="normal" textLength="8" lengthAdjust="spacingAndGlyphs">.68</text></g><g transform="translate(555.4 1230.16) rotate(45)"><rect x="-8.7" y="-4.3" width="17.4" height="8.59" fill="#fff8e9" stroke="none" stroke-width="0"/><text x="0" y="3.1" font-size="8.6" text-anchor="middle" fill="#2e2a26" font-weight="normal" textLength="15" lengthAdjust="spacingAndGlyphs">1.23</text></g><line x1="467.95" y1="969.5" x2="467.95" y2="1104" stroke="#1c1709" stroke-width="2.2" stroke-linecap="butt"/><line x1="474.55" y1="969.5" x2="474.55" y2="1104" stroke="#1c1709" stroke-width="2.2" stroke-linecap="butt"/><polyline points="461.75,1110 471.25,1102 480.75,1110" fill="none" stroke="#1c1709" stroke-width="2.2" stroke-linejoin="miter"/><line x1="1423.75" y1="1105" x2="1212" y2="1316" stroke="#ad1420" stroke-width="3" stroke-linecap="butt"/><polyline points="1423.75,1128.33 1231.8,1319.54 1221.19,1308.93" fill="none" stroke="#1c1709" stroke-width="2" stroke-dasharray="8 4" stroke-linejoin="miter"/><line x1="1444.26" y1="1125.51" x2="1232.51" y2="1336.51" stroke="#1c1709" stroke-width="2.2" stroke-linecap="butt"/><line x1="1232.51" y1="1336.51" x2="1212" y2="1316" stroke="#1c1709" stroke-width="2" stroke-linecap="butt"/><polygon points="1236.72,1337.36 1234.65,1337.95 1234.88,1340.09 1233,1339.04 1231.65,1340.72 1231.06,1338.65 1228.92,1338.88 1229.97,1337 1228.29,1335.65 1230.37,1335.06 1230.13,1332.92 1232.01,1333.97 1233.36,1332.29 1233.95,1334.37 1236.09,1334.13 1235.04,1336.01" fill="#1c1709"/><g transform="translate(1369.16 1176.28) rotate(-45)"><text x="0" y="2.45" font-size="6.8" text-anchor="middle" fill="#24201c" font-weight="normal" textLength="84" lengthAdjust="spacingAndGlyphs">0.60 MT. W. ARCH PROJECTION</text></g><line x1="1314.86" y1="1213.89" x2="1326.52" y2="1225.56" stroke="#1c1709" stroke-width="1.5" stroke-linecap="butt"/><polygon points="1318.38,1214.61 1316.65,1215.1 1316.84,1216.9 1315.27,1216.01 1314.14,1217.42 1313.65,1215.69 1311.85,1215.88 1312.74,1214.31 1311.33,1213.18 1313.06,1212.69 1312.87,1210.89 1314.44,1211.77 1315.57,1210.37 1316.06,1212.1 1317.86,1211.91 1316.98,1213.48" fill="#1c1709"/><polygon points="1330.05,1226.28 1328.31,1226.77 1328.51,1228.56 1326.94,1227.68 1325.81,1229.09 1325.32,1227.35 1323.52,1227.55 1324.4,1225.98 1322.99,1224.85 1324.73,1224.36 1324.53,1222.56 1326.11,1223.44 1327.24,1222.03 1327.73,1223.77 1329.52,1223.57 1328.64,1225.15" fill="#1c1709"/><g transform="translate(1324.05 1216.02) rotate(-135)"><text x="0" y="2.34" font-size="6.5" text-anchor="middle" fill="#2e2a26" font-weight="normal" textLength="8" lengthAdjust="spacingAndGlyphs">.68</text></g><g transform="translate(1339.6 1230.16) rotate(-45)"><rect x="-8.7" y="-4.3" width="17.4" height="8.59" fill="#fff8e9" stroke="none" stroke-width="0"/><text x="0" y="3.1" font-size="8.6" text-anchor="middle" fill="#2e2a26" font-weight="normal" textLength="15" lengthAdjust="spacingAndGlyphs">1.23</text></g><line x1="1423.75" y1="1105" x2="1636.5" y2="1316" stroke="#ad1420" stroke-width="3" stroke-linecap="butt"/><polyline points="1423.75,1128.33 1616.7,1319.54 1627.31,1308.93" fill="none" stroke="#1c1709" stroke-width="2" stroke-dasharray="8 4" stroke-linejoin="miter"/><line x1="1403.24" y1="1125.51" x2="1615.99" y2="1336.51" stroke="#1c1709" stroke-width="2.2" stroke-linecap="butt"/><line x1="1615.99" y1="1336.51" x2="1636.5" y2="1316" stroke="#1c1709" stroke-width="2" stroke-linecap="butt"/><polygon points="1620.21,1337.36 1618.13,1337.95 1618.37,1340.09 1616.49,1339.04 1615.14,1340.72 1614.55,1338.65 1612.41,1338.88 1613.46,1337 1611.78,1335.65 1613.85,1335.06 1613.62,1332.92 1615.5,1333.97 1616.85,1332.29 1617.44,1334.37 1619.58,1334.13 1618.53,1336.01" fill="#1c1709"/><g transform="translate(1478.34 1176.28) rotate(45)"><text x="0" y="2.45" font-size="6.8" text-anchor="middle" fill="#24201c" font-weight="normal" textLength="84" lengthAdjust="spacingAndGlyphs">0.60 MT. W. ARCH PROJECTION</text></g><line x1="1532.64" y1="1213.89" x2="1520.98" y2="1225.56" stroke="#1c1709" stroke-width="1.5" stroke-linecap="butt"/><polygon points="1536.17,1214.61 1534.44,1215.1 1534.63,1216.9 1533.06,1216.01 1531.93,1217.42 1531.44,1215.69 1529.64,1215.88 1530.52,1214.31 1529.12,1213.18 1530.85,1212.69 1530.66,1210.89 1532.23,1211.77 1533.36,1210.37 1533.85,1212.1 1535.65,1211.91 1534.76,1213.48" fill="#1c1709"/><polygon points="1524.51,1226.28 1522.77,1226.77 1522.97,1228.56 1521.39,1227.68 1520.26,1229.09 1519.77,1227.35 1517.98,1227.55 1518.86,1225.98 1517.45,1224.85 1519.19,1224.36 1518.99,1222.56 1520.56,1223.44 1521.69,1222.03 1522.18,1223.77 1523.98,1223.57 1523.1,1225.15" fill="#1c1709"/><g transform="translate(1530.52 1223.09) rotate(135)"><text x="0" y="2.34" font-size="6.5" text-anchor="middle" fill="#2e2a26" font-weight="normal" textLength="8" lengthAdjust="spacingAndGlyphs">.68</text></g><g transform="translate(1507.9 1230.16) rotate(45)"><rect x="-8.7" y="-4.3" width="17.4" height="8.59" fill="#fff8e9" stroke="none" stroke-width="0"/><text x="0" y="3.1" font-size="8.6" text-anchor="middle" fill="#2e2a26" font-weight="normal" textLength="15" lengthAdjust="spacingAndGlyphs">1.23</text></g><line x1="1420.45" y1="969.5" x2="1420.45" y2="1104" stroke="#1c1709" stroke-width="2.2" stroke-linecap="butt"/><line x1="1427.05" y1="969.5" x2="1427.05" y2="1104" stroke="#1c1709" stroke-width="2.2" stroke-linecap="butt"/><polyline points="1414.25,1110 1423.75,1102 1433.25,1110" fill="none" stroke="#1c1709" stroke-width="2.2" stroke-linejoin="miter"/><path d="M1636.5,1316 A145,145 0 0 0 1781.5,1171" fill="none" stroke="#ad1420" stroke-width="2.8"/><line x1="1781.5" y1="1170" x2="1780" y2="1188" stroke="#1c1709" stroke-width="3" stroke-linecap="butt"/><line x1="522.5" y1="1152.5" x2="663.75" y2="1010.5" stroke="#1c1709" stroke-width="4.2" stroke-linecap="butt"/><line x1="523.5" y1="1153.5" x2="664.75" y2="1011.5" stroke="#fff8e9" stroke-width="1" stroke-linecap="butt"/><line x1="581" y1="1211" x2="704" y2="1090" stroke="#1c1709" stroke-width="4.2" stroke-linecap="butt"/><line x1="582" y1="1212" x2="705" y2="1091" stroke="#fff8e9" stroke-width="1" stroke-linecap="butt"/><line x1="641" y1="1271" x2="784" y2="1130" stroke="#1c1709" stroke-width="4.2" stroke-linecap="butt"/><line x1="642" y1="1272" x2="785" y2="1131" stroke="#fff8e9" stroke-width="1" stroke-linecap="butt"/><g transform="rotate(45 700 1074)"><rect x="689.5" y="1063" width="21" height="22" fill="none" stroke="#8a8580" stroke-width="0.7"/></g><g transform="translate(700 1072) rotate(45)"><text x="0" y="-5.01" font-size="6.13" text-anchor="middle" fill="#433f3a" font-weight="normal" textLength="9.29" lengthAdjust="spacingAndGlyphs">TOI.</text><text x="0" y="2.23" font-size="6.13" text-anchor="middle" fill="#433f3a" font-weight="normal" textLength="14.86" lengthAdjust="spacingAndGlyphs">1.00 X</text><text x="0" y="9.47" font-size="6.13" text-anchor="middle" fill="#433f3a" font-weight="normal" textLength="9.75" lengthAdjust="spacingAndGlyphs">1.00</text></g><g transform="rotate(45 726 1098)"><rect x="715.5" y="1087" width="21" height="22" fill="none" stroke="#8a8580" stroke-width="0.7"/></g><g transform="translate(726 1096) rotate(45)"><text x="0" y="-5.01" font-size="6.13" text-anchor="middle" fill="#433f3a" font-weight="normal" textLength="9.29" lengthAdjust="spacingAndGlyphs">TOI.</text><text x="0" y="2.23" font-size="6.13" text-anchor="middle" fill="#433f3a" font-weight="normal" textLength="14.86" lengthAdjust="spacingAndGlyphs">1.00 X</text><text x="0" y="9.47" font-size="6.13" text-anchor="middle" fill="#433f3a" font-weight="normal" textLength="9.75" lengthAdjust="spacingAndGlyphs">1.00</text></g><g transform="rotate(45 786 1152)"><rect x="775.5" y="1141" width="21" height="22" fill="none" stroke="#8a8580" stroke-width="0.7"/></g><g transform="translate(786 1150) rotate(45)"><text x="0" y="-5.01" font-size="6.13" text-anchor="middle" fill="#433f3a" font-weight="normal" textLength="9.29" lengthAdjust="spacingAndGlyphs">TOI.</text><text x="0" y="2.23" font-size="6.13" text-anchor="middle" fill="#433f3a" font-weight="normal" textLength="14.86" lengthAdjust="spacingAndGlyphs">1.00 X</text><text x="0" y="9.47" font-size="6.13" text-anchor="middle" fill="#433f3a" font-weight="normal" textLength="9.75" lengthAdjust="spacingAndGlyphs">1.00</text></g><line x1="681" y1="1067.5" x2="725" y2="1112.5" stroke="#1c1709" stroke-width="3.2" stroke-linecap="butt"/><line x1="761" y1="1146" x2="786" y2="1170" stroke="#1c1709" stroke-width="3.2" stroke-linecap="butt"/><line x1="697" y1="1052" x2="703" y2="1058" stroke="#1c1709" stroke-width="3" stroke-linecap="butt"/><line x1="740" y1="1094" x2="746" y2="1100" stroke="#1c1709" stroke-width="3" stroke-linecap="butt"/><line x1="800" y1="1137" x2="806" y2="1143" stroke="#1c1709" stroke-width="3" stroke-linecap="butt"/><g transform="translate(557 1035) rotate(55)"><text x="0" y="0" font-size="8" text-anchor="middle" fill="#2b2723" font-weight="normal" textLength="29.4" lengthAdjust="spacingAndGlyphs">SHOP-12</text><text x="0" y="10.3" font-size="8" text-anchor="middle" fill="#2b2723" font-weight="normal" textLength="35.75" lengthAdjust="spacingAndGlyphs">7.02 X 6.72</text></g><g transform="translate(627 1107) rotate(55)"><text x="0" y="0" font-size="8" text-anchor="middle" fill="#2b2723" font-weight="normal" textLength="29.4" lengthAdjust="spacingAndGlyphs">SHOP-13</text><text x="0" y="10.3" font-size="8" text-anchor="middle" fill="#2b2723" font-weight="normal" textLength="35.75" lengthAdjust="spacingAndGlyphs">3.05 X 7.54</text></g><g transform="translate(686 1166) rotate(55)"><text x="0" y="0" font-size="8" text-anchor="middle" fill="#2b2723" font-weight="normal" textLength="29.4" lengthAdjust="spacingAndGlyphs">SHOP-14</text><text x="0" y="10.3" font-size="8" text-anchor="middle" fill="#2b2723" font-weight="normal" textLength="35.75" lengthAdjust="spacingAndGlyphs">3.05 X 7.54</text></g><g transform="translate(758 1237) rotate(55)"><text x="0" y="0" font-size="8" text-anchor="middle" fill="#2b2723" font-weight="normal" textLength="29.4" lengthAdjust="spacingAndGlyphs">SHOP-15</text><text x="0" y="10.3" font-size="8" text-anchor="middle" fill="#2b2723" font-weight="normal" textLength="35.75" lengthAdjust="spacingAndGlyphs">4.21 X 7.54</text></g><line x1="1372.5" y1="1152.5" x2="1231.25" y2="1010.5" stroke="#1c1709" stroke-width="4.2" stroke-linecap="butt"/><line x1="1371.5" y1="1153.5" x2="1230.25" y2="1011.5" stroke="#fff8e9" stroke-width="1" stroke-linecap="butt"/><line x1="1314" y1="1211" x2="1191" y2="1090" stroke="#1c1709" stroke-width="4.2" stroke-linecap="butt"/><line x1="1313" y1="1212" x2="1190" y2="1091" stroke="#fff8e9" stroke-width="1" stroke-linecap="butt"/><line x1="1254" y1="1271" x2="1111" y2="1130" stroke="#1c1709" stroke-width="4.2" stroke-linecap="butt"/><line x1="1253" y1="1272" x2="1110" y2="1131" stroke="#fff8e9" stroke-width="1" stroke-linecap="butt"/><g transform="rotate(-45 1195 1074)"><rect x="1184.5" y="1063" width="21" height="22" fill="none" stroke="#8a8580" stroke-width="0.7"/></g><g transform="translate(1195 1072) rotate(-45)"><text x="0" y="-5.01" font-size="6.13" text-anchor="middle" fill="#433f3a" font-weight="normal" textLength="9.29" lengthAdjust="spacingAndGlyphs">TOI.</text><text x="0" y="2.23" font-size="6.13" text-anchor="middle" fill="#433f3a" font-weight="normal" textLength="14.86" lengthAdjust="spacingAndGlyphs">1.00 X</text><text x="0" y="9.47" font-size="6.13" text-anchor="middle" fill="#433f3a" font-weight="normal" textLength="9.75" lengthAdjust="spacingAndGlyphs">1.00</text></g><g transform="rotate(-45 1169 1098)"><rect x="1158.5" y="1087" width="21" height="22" fill="none" stroke="#8a8580" stroke-width="0.7"/></g><g transform="translate(1169 1096) rotate(-45)"><text x="0" y="-5.01" font-size="6.13" text-anchor="middle" fill="#433f3a" font-weight="normal" textLength="9.29" lengthAdjust="spacingAndGlyphs">TOI.</text><text x="0" y="2.23" font-size="6.13" text-anchor="middle" fill="#433f3a" font-weight="normal" textLength="14.86" lengthAdjust="spacingAndGlyphs">1.00 X</text><text x="0" y="9.47" font-size="6.13" text-anchor="middle" fill="#433f3a" font-weight="normal" textLength="9.75" lengthAdjust="spacingAndGlyphs">1.00</text></g><g transform="rotate(-45 1109 1152)"><rect x="1098.5" y="1141" width="21" height="22" fill="none" stroke="#8a8580" stroke-width="0.7"/></g><g transform="translate(1109 1150) rotate(-45)"><text x="0" y="-5.01" font-size="6.13" text-anchor="middle" fill="#433f3a" font-weight="normal" textLength="9.29" lengthAdjust="spacingAndGlyphs">TOI.</text><text x="0" y="2.23" font-size="6.13" text-anchor="middle" fill="#433f3a" font-weight="normal" textLength="14.86" lengthAdjust="spacingAndGlyphs">1.00 X</text><text x="0" y="9.47" font-size="6.13" text-anchor="middle" fill="#433f3a" font-weight="normal" textLength="9.75" lengthAdjust="spacingAndGlyphs">1.00</text></g><line x1="1214" y1="1067.5" x2="1170" y2="1112.5" stroke="#1c1709" stroke-width="3.2" stroke-linecap="butt"/><line x1="1134" y1="1146" x2="1109" y2="1170" stroke="#1c1709" stroke-width="3.2" stroke-linecap="butt"/><line x1="1198" y1="1052" x2="1192" y2="1058" stroke="#1c1709" stroke-width="3" stroke-linecap="butt"/><line x1="1155" y1="1094" x2="1149" y2="1100" stroke="#1c1709" stroke-width="3" stroke-linecap="butt"/><line x1="1095" y1="1137" x2="1089" y2="1143" stroke="#1c1709" stroke-width="3" stroke-linecap="butt"/><g transform="translate(1338 1035) rotate(-55)"><text x="0" y="0" font-size="8" text-anchor="middle" fill="#2b2723" font-weight="normal" textLength="29.4" lengthAdjust="spacingAndGlyphs">SHOP-22</text><text x="0" y="10.3" font-size="8" text-anchor="middle" fill="#2b2723" font-weight="normal" textLength="35.75" lengthAdjust="spacingAndGlyphs">7.02 X 6.72</text></g><g transform="translate(1268 1107) rotate(-55)"><text x="0" y="0" font-size="8" text-anchor="middle" fill="#2b2723" font-weight="normal" textLength="29.4" lengthAdjust="spacingAndGlyphs">SHOP-21</text><text x="0" y="10.3" font-size="8" text-anchor="middle" fill="#2b2723" font-weight="normal" textLength="35.75" lengthAdjust="spacingAndGlyphs">3.05 X 7.54</text></g><g transform="translate(1209 1166) rotate(-55)"><text x="0" y="0" font-size="8" text-anchor="middle" fill="#2b2723" font-weight="normal" textLength="29.4" lengthAdjust="spacingAndGlyphs">SHOP-20</text><text x="0" y="10.3" font-size="8" text-anchor="middle" fill="#2b2723" font-weight="normal" textLength="35.75" lengthAdjust="spacingAndGlyphs">3.05 X 7.54</text></g><g transform="translate(1137 1237) rotate(-55)"><text x="0" y="0" font-size="8" text-anchor="middle" fill="#2b2723" font-weight="normal" textLength="29.4" lengthAdjust="spacingAndGlyphs">SHOP-19</text><text x="0" y="10.3" font-size="8" text-anchor="middle" fill="#2b2723" font-weight="normal" textLength="35.75" lengthAdjust="spacingAndGlyphs">4.21 X 7.54</text></g><line x1="1475" y1="1152.5" x2="1616.25" y2="1010.5" stroke="#1c1709" stroke-width="4.2" stroke-linecap="butt"/><line x1="1476" y1="1153.5" x2="1617.25" y2="1011.5" stroke="#fff8e9" stroke-width="1" stroke-linecap="butt"/><line x1="1533.5" y1="1211" x2="1656.5" y2="1090" stroke="#1c1709" stroke-width="4.2" stroke-linecap="butt"/><line x1="1534.5" y1="1212" x2="1657.5" y2="1091" stroke="#fff8e9" stroke-width="1" stroke-linecap="butt"/><line x1="1593.5" y1="1271" x2="1736.5" y2="1130" stroke="#1c1709" stroke-width="4.2" stroke-linecap="butt"/><line x1="1594.5" y1="1272" x2="1737.5" y2="1131" stroke="#fff8e9" stroke-width="1" stroke-linecap="butt"/><g transform="rotate(45 1652.5 1074)"><rect x="1642" y="1063" width="21" height="22" fill="none" stroke="#8a8580" stroke-width="0.7"/></g><g transform="translate(1652.5 1072) rotate(45)"><text x="0" y="-5.01" font-size="6.13" text-anchor="middle" fill="#433f3a" font-weight="normal" textLength="9.29" lengthAdjust="spacingAndGlyphs">TOI.</text><text x="0" y="2.23" font-size="6.13" text-anchor="middle" fill="#433f3a" font-weight="normal" textLength="14.86" lengthAdjust="spacingAndGlyphs">1.00 X</text><text x="0" y="9.47" font-size="6.13" text-anchor="middle" fill="#433f3a" font-weight="normal" textLength="9.75" lengthAdjust="spacingAndGlyphs">1.00</text></g><g transform="rotate(45 1678.5 1098)"><rect x="1668" y="1087" width="21" height="22" fill="none" stroke="#8a8580" stroke-width="0.7"/></g><g transform="translate(1678.5 1096) rotate(45)"><text x="0" y="-5.01" font-size="6.13" text-anchor="middle" fill="#433f3a" font-weight="normal" textLength="9.29" lengthAdjust="spacingAndGlyphs">TOI.</text><text x="0" y="2.23" font-size="6.13" text-anchor="middle" fill="#433f3a" font-weight="normal" textLength="14.86" lengthAdjust="spacingAndGlyphs">1.00 X</text><text x="0" y="9.47" font-size="6.13" text-anchor="middle" fill="#433f3a" font-weight="normal" textLength="9.75" lengthAdjust="spacingAndGlyphs">1.00</text></g><g transform="rotate(45 1738.5 1152)"><rect x="1728" y="1141" width="21" height="22" fill="none" stroke="#8a8580" stroke-width="0.7"/></g><g transform="translate(1738.5 1150) rotate(45)"><text x="0" y="-5.01" font-size="6.13" text-anchor="middle" fill="#433f3a" font-weight="normal" textLength="9.29" lengthAdjust="spacingAndGlyphs">TOI.</text><text x="0" y="2.23" font-size="6.13" text-anchor="middle" fill="#433f3a" font-weight="normal" textLength="14.86" lengthAdjust="spacingAndGlyphs">1.00 X</text><text x="0" y="9.47" font-size="6.13" text-anchor="middle" fill="#433f3a" font-weight="normal" textLength="9.75" lengthAdjust="spacingAndGlyphs">1.00</text></g><line x1="1633.5" y1="1067.5" x2="1677.5" y2="1112.5" stroke="#1c1709" stroke-width="3.2" stroke-linecap="butt"/><line x1="1713.5" y1="1146" x2="1738.5" y2="1170" stroke="#1c1709" stroke-width="3.2" stroke-linecap="butt"/><line x1="1649.5" y1="1052" x2="1655.5" y2="1058" stroke="#1c1709" stroke-width="3" stroke-linecap="butt"/><line x1="1692.5" y1="1094" x2="1698.5" y2="1100" stroke="#1c1709" stroke-width="3" stroke-linecap="butt"/><line x1="1752.5" y1="1137" x2="1758.5" y2="1143" stroke="#1c1709" stroke-width="3" stroke-linecap="butt"/><g transform="translate(1509.5 1035) rotate(55)"><text x="0" y="0" font-size="8" text-anchor="middle" fill="#2b2723" font-weight="normal" textLength="29.4" lengthAdjust="spacingAndGlyphs">SHOP-23</text><text x="0" y="10.3" font-size="8" text-anchor="middle" fill="#2b2723" font-weight="normal" textLength="35.75" lengthAdjust="spacingAndGlyphs">7.02 X 6.72</text></g><g transform="translate(1579.5 1107) rotate(55)"><text x="0" y="0" font-size="8" text-anchor="middle" fill="#2b2723" font-weight="normal" textLength="29.4" lengthAdjust="spacingAndGlyphs">SHOP-24</text><text x="0" y="10.3" font-size="8" text-anchor="middle" fill="#2b2723" font-weight="normal" textLength="35.75" lengthAdjust="spacingAndGlyphs">3.05 X 7.54</text></g><g transform="translate(1638.5 1166) rotate(55)"><text x="0" y="0" font-size="8" text-anchor="middle" fill="#2b2723" font-weight="normal" textLength="29.4" lengthAdjust="spacingAndGlyphs">SHOP-25</text><text x="0" y="10.3" font-size="8" text-anchor="middle" fill="#2b2723" font-weight="normal" textLength="35.75" lengthAdjust="spacingAndGlyphs">3.05 X 7.54</text></g><g transform="translate(1710.5 1237) rotate(55)"><text x="0" y="0" font-size="8" text-anchor="middle" fill="#2b2723" font-weight="normal" textLength="29.4" lengthAdjust="spacingAndGlyphs">SHOP-26</text><text x="0" y="10.3" font-size="8" text-anchor="middle" fill="#2b2723" font-weight="normal" textLength="35.75" lengthAdjust="spacingAndGlyphs">3.51 X 7.54</text></g><line x1="1769" y1="699" x2="1815" y2="699" stroke="#1c1709" stroke-width="2.4" stroke-linecap="butt"/><line x1="1723" y1="699" x2="1723" y2="906" stroke="#1c1709" stroke-width="2.4" stroke-linecap="butt"/><line x1="1745.5" y1="699" x2="1745.5" y2="906" stroke="#1c1709" stroke-width="2" stroke-linecap="butt"/><line x1="1723" y1="717.7" x2="1768" y2="717.7" stroke="#1c1709" stroke-width="2.1" stroke-linecap="butt"/><line x1="1723" y1="733.4" x2="1768" y2="733.4" stroke="#1c1709" stroke-width="2.1" stroke-linecap="butt"/><line x1="1723" y1="750.4" x2="1768" y2="750.4" stroke="#1c1709" stroke-width="2.1" stroke-linecap="butt"/><line x1="1723" y1="762.6" x2="1768" y2="762.6" stroke="#1c1709" stroke-width="2.1" stroke-linecap="butt"/><line x1="1723" y1="773.5" x2="1768" y2="773.5" stroke="#1c1709" stroke-width="2.1" stroke-linecap="butt"/><line x1="1723" y1="785.6" x2="1768" y2="785.6" stroke="#1c1709" stroke-width="2.1" stroke-linecap="butt"/><line x1="1723" y1="797.8" x2="1768" y2="797.8" stroke="#1c1709" stroke-width="2.1" stroke-linecap="butt"/><line x1="1723" y1="807.5" x2="1768" y2="807.5" stroke="#1c1709" stroke-width="2.1" stroke-linecap="butt"/><line x1="1723" y1="817.2" x2="1768" y2="817.2" stroke="#1c1709" stroke-width="2.1" stroke-linecap="butt"/><line x1="1723" y1="826.9" x2="1768" y2="826.9" stroke="#1c1709" stroke-width="2.1" stroke-linecap="butt"/><line x1="1723" y1="836.6" x2="1768" y2="836.6" stroke="#1c1709" stroke-width="2.1" stroke-linecap="butt"/><line x1="1723" y1="845.1" x2="1768" y2="845.1" stroke="#1c1709" stroke-width="2.1" stroke-linecap="butt"/><line x1="1723" y1="853.6" x2="1768" y2="853.6" stroke="#1c1709" stroke-width="2.1" stroke-linecap="butt"/><line x1="1723" y1="862.1" x2="1768" y2="862.1" stroke="#1c1709" stroke-width="2.1" stroke-linecap="butt"/><line x1="1723" y1="869.4" x2="1768" y2="869.4" stroke="#1c1709" stroke-width="2.1" stroke-linecap="butt"/><line x1="1723" y1="876.6" x2="1768" y2="876.6" stroke="#1c1709" stroke-width="2.1" stroke-linecap="butt"/><line x1="1723" y1="883.9" x2="1768" y2="883.9" stroke="#1c1709" stroke-width="2.1" stroke-linecap="butt"/><line x1="1723" y1="890" x2="1768" y2="890" stroke="#1c1709" stroke-width="2.1" stroke-linecap="butt"/><line x1="1723" y1="897.3" x2="1768" y2="897.3" stroke="#1c1709" stroke-width="2.1" stroke-linecap="butt"/><line x1="1723" y1="903.4" x2="1768" y2="903.4" stroke="#1c1709" stroke-width="2.1" stroke-linecap="butt"/><polygon points="1743.2,896 1748,896 1745.6,905" fill="#1c1709" stroke="#1c1709" stroke-width="0.1" stroke-linejoin="miter"/><rect x="1723.5" y="905.5" width="45" height="54" fill="none" stroke="#ad1420" stroke-width="2.8"/><rect x="1727" y="909" width="38" height="47.5" fill="none" stroke="#1c1709" stroke-width="2"/><text x="1746" y="926.5" font-size="6.6" text-anchor="middle" fill="#3a3632" font-weight="normal" textLength="26" lengthAdjust="spacingAndGlyphs">HANDICAP</text><text x="1746" y="935.3" font-size="6.6" text-anchor="middle" fill="#3a3632" font-weight="normal" textLength="18" lengthAdjust="spacingAndGlyphs">TOILET</text><text x="1746" y="944" font-size="6.6" text-anchor="middle" fill="#3a3632" font-weight="normal" textLength="28" lengthAdjust="spacingAndGlyphs">1.50 X 1.75</text><line x1="1712.5" y1="699" x2="1712.5" y2="906" stroke="#1c1709" stroke-width="2.2" stroke-linecap="butt"/><polygon points="1716.71,699.85 1714.64,700.44 1714.88,702.58 1712.99,701.53 1711.65,703.21 1711.06,701.14 1708.92,701.38 1709.97,699.49 1708.29,698.15 1710.36,697.56 1710.12,695.42 1712.01,696.47 1713.35,694.79 1713.94,696.86 1716.08,696.62 1715.03,698.51" fill="#1c1709"/><polygon points="1716.71,906.85 1714.64,907.44 1714.88,909.58 1712.99,908.53 1711.65,910.21 1711.06,908.14 1708.92,908.38 1709.97,906.49 1708.29,905.15 1710.36,904.56 1710.12,902.42 1712.01,903.47 1713.35,901.79 1713.94,903.86 1716.08,903.62 1715.03,905.51" fill="#1c1709"/><g transform="translate(1712.5 810) rotate(-90)"><rect x="-8.7" y="-4.3" width="17.4" height="8.59" fill="#fff8e9" stroke="none" stroke-width="0"/><text x="0" y="3.1" font-size="8.6" text-anchor="middle" fill="#2e2a26" font-weight="normal" textLength="15" lengthAdjust="spacingAndGlyphs">7.77</text></g><g transform="translate(1745.5 812) rotate(-90)"><rect x="-10.2" y="-3.54" width="20.4" height="7.08" fill="#fff8e9" stroke="none" stroke-width="0"/><text x="0" y="2.34" font-size="6.5" text-anchor="middle" fill="#2e2a26" font-weight="normal" textLength="18" lengthAdjust="spacingAndGlyphs">RAMP</text></g><line x1="1785" y1="699" x2="1785" y2="959.5" stroke="#1c1709" stroke-width="2" stroke-dasharray="9 3" stroke-linecap="butt"/><line x1="1797.5" y1="699" x2="1797.5" y2="959.5" stroke="#1c1709" stroke-width="2.2" stroke-linecap="butt"/><line x1="1769" y1="959.5" x2="1797.5" y2="959.5" stroke="#1c1709" stroke-width="2" stroke-linecap="butt"/><polygon points="1801.71,699.85 1799.64,700.44 1799.88,702.58 1797.99,701.53 1796.65,703.21 1796.06,701.14 1793.92,701.38 1794.97,699.49 1793.29,698.15 1795.36,697.56 1795.12,695.42 1797.01,696.47 1798.35,694.79 1798.94,696.86 1801.08,696.62 1800.03,698.51" fill="#1c1709"/><polygon points="1801.71,960.85 1799.64,961.44 1799.88,963.58 1797.99,962.53 1796.65,964.21 1796.06,962.14 1793.92,962.38 1794.97,960.49 1793.29,959.15 1795.36,958.56 1795.12,956.42 1797.01,957.47 1798.35,955.79 1798.94,957.86 1801.08,957.62 1800.03,959.51" fill="#1c1709"/><g transform="translate(1778 768) rotate(-90)"><text x="0" y="2.45" font-size="6.8" text-anchor="middle" fill="#24201c" font-weight="normal" textLength="86" lengthAdjust="spacingAndGlyphs">0.60 MT. W. ARCH PROJECTION</text></g><polygon points="1772.53,829.72 1770.79,830.21 1770.99,832 1769.41,831.12 1768.28,832.53 1767.79,830.79 1766,830.99 1766.88,829.41 1765.47,828.28 1767.21,827.79 1767.01,826 1768.59,826.88 1769.72,825.47 1770.21,827.21 1772,827.01 1771.12,828.59" fill="#1c1709"/><polygon points="1788.53,829.72 1786.79,830.21 1786.99,832 1785.41,831.12 1784.28,832.53 1783.79,830.79 1782,830.99 1782.88,829.41 1781.47,828.28 1783.21,827.79 1783.01,826 1784.59,826.88 1785.72,825.47 1786.21,827.21 1788,827.01 1787.12,828.59" fill="#1c1709"/><g transform="translate(1777.5 829) rotate(0)"><text x="0" y="2.7" font-size="7.5" text-anchor="middle" fill="#2e2a26" font-weight="normal" textLength="9" lengthAdjust="spacingAndGlyphs">.60</text></g><g transform="translate(1797.5 826) rotate(-90)"><rect x="-8.7" y="-4.3" width="17.4" height="8.59" fill="#fff8e9" stroke="none" stroke-width="0"/><text x="0" y="3.1" font-size="8.6" text-anchor="middle" fill="#2e2a26" font-weight="normal" textLength="15" lengthAdjust="spacingAndGlyphs">8.75</text></g><line x1="1722.5" y1="689" x2="1770" y2="689" stroke="#1c1709" stroke-width="2.2" stroke-linecap="butt"/><polygon points="1726.71,689.85 1724.64,690.44 1724.88,692.58 1722.99,691.53 1721.65,693.21 1721.06,691.14 1718.92,691.38 1719.97,689.49 1718.29,688.15 1720.36,687.56 1720.12,685.42 1722.01,686.47 1723.35,684.79 1723.94,686.86 1726.08,686.62 1725.03,688.51" fill="#1c1709"/><polygon points="1774.21,689.85 1772.14,690.44 1772.38,692.58 1770.49,691.53 1769.15,693.21 1768.56,691.14 1766.42,691.38 1767.47,689.49 1765.79,688.15 1767.86,687.56 1767.62,685.42 1769.51,686.47 1770.85,684.79 1771.44,686.86 1773.58,686.62 1772.53,688.51" fill="#1c1709"/><g transform="translate(1746 689) rotate(0)"><rect x="-8.7" y="-4.3" width="17.4" height="8.59" fill="#fff8e9" stroke="none" stroke-width="0"/><text x="0" y="3.1" font-size="8.6" text-anchor="middle" fill="#2e2a26" font-weight="normal" textLength="15" lengthAdjust="spacingAndGlyphs">1.73</text></g><line x1="1646" y1="999" x2="1800" y2="1152.5" stroke="#1c1709" stroke-width="2.2" stroke-linecap="butt"/><line x1="1800" y1="1152.5" x2="1781" y2="1171.5" stroke="#1c1709" stroke-width="2" stroke-linecap="butt"/><polygon points="1804.21,1153.35 1802.14,1153.94 1802.38,1156.08 1800.49,1155.03 1799.15,1156.71 1798.56,1154.64 1796.42,1154.88 1797.47,1152.99 1795.79,1151.65 1797.86,1151.06 1797.62,1148.92 1799.51,1149.97 1800.85,1148.29 1801.44,1150.36 1803.58,1150.12 1802.53,1152.01" fill="#1c1709"/><g transform="translate(1723 1075.5) rotate(45)"><rect x="-8.7" y="-4.3" width="17.4" height="8.59" fill="#fff8e9" stroke="none" stroke-width="0"/><text x="0" y="3.1" font-size="8.6" text-anchor="middle" fill="#2e2a26" font-weight="normal" textLength="15" lengthAdjust="spacingAndGlyphs">8.15</text></g><polyline points="1270,967.5 1576,967.5 1781.5,1171.5" fill="none" stroke="#ad1420" stroke-width="3" stroke-linejoin="miter"/><path d="M108.04,1319.01 A49.2,49.2 0 0 1 158.03,1365.63" fill="none" stroke="#1c1709" stroke-width="2.5"/><path d="M158.03,1370.77 A49.2,49.2 0 0 1 109.76,1417.39" fill="none" stroke="#1c1709" stroke-width="2.5"/><path d="M104.61,1417.21 A49.2,49.2 0 0 1 60.96,1379.27" fill="none" stroke="#1c1709" stroke-width="2.5"/><path d="M60.96,1357.13 A49.2,49.2 0 0 1 102.9,1319.37" fill="none" stroke="#1c1709" stroke-width="2.5"/><polygon points="75,1368.4 137.2,1347.2 128.2,1368" fill="#fdfdf8" stroke="#1c1709" stroke-width="2.2" stroke-linejoin="miter"/><polygon points="75,1368.4 128.2,1368 137.6,1389.6" fill="#1c1709" stroke="#1c1709" stroke-width="2"/><text x="60.1" y="1375.5" font-size="20.5" text-anchor="middle" fill="#141110" font-weight="bold" textLength="11.8" lengthAdjust="spacingAndGlyphs">N</text></svg></body></html>
